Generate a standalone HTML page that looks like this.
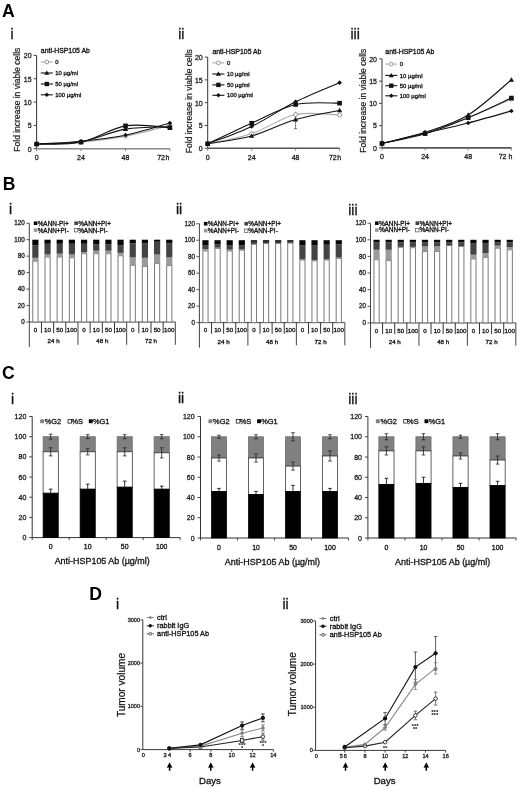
<!DOCTYPE html>
<html><head><meta charset="utf-8"><style>
html,body{margin:0;padding:0;background:#fff;}
svg{display:block;font-family:"Liberation Sans", sans-serif;will-change:transform;}
</style></head><body>
<div id="wrap"><svg width="520" height="788" viewBox="0 0 520 788">
<rect width="520" height="788" fill="#fff"/>
<text x="2.00" y="16.80" font-size="17.6" text-anchor="start" font-weight="bold" fill="#000" >A</text>
<text x="2.80" y="190.20" font-size="17.5" text-anchor="start" font-weight="bold" fill="#000" >B</text>
<text x="2.00" y="378.60" font-size="17.6" text-anchor="start" font-weight="bold" fill="#000" >C</text>
<text x="89.30" y="599.70" font-size="17.6" text-anchor="start" font-weight="bold" fill="#000" >D</text>
<text x="10.60" y="38.70" font-size="14" text-anchor="start" font-weight="normal" fill="#111" stroke="#111" stroke-width="0.3" >i</text>
<text x="178.20" y="39.20" font-size="14" text-anchor="start" font-weight="normal" fill="#111" stroke="#111" stroke-width="0.3" >ii</text>
<text x="350.50" y="39.20" font-size="14" text-anchor="start" font-weight="normal" fill="#111" stroke="#111" stroke-width="0.3" >iii</text>
<text x="9.00" y="213.50" font-size="14" text-anchor="start" font-weight="normal" fill="#111" stroke="#111" stroke-width="0.3" >i</text>
<text x="176.00" y="213.50" font-size="14" text-anchor="start" font-weight="normal" fill="#111" stroke="#111" stroke-width="0.3" >ii</text>
<text x="348.20" y="215.00" font-size="14" text-anchor="start" font-weight="normal" fill="#111" stroke="#111" stroke-width="0.3" >iii</text>
<text x="11.00" y="403.60" font-size="14" text-anchor="start" font-weight="normal" fill="#111" stroke="#111" stroke-width="0.3" >i</text>
<text x="178.00" y="402.70" font-size="14" text-anchor="start" font-weight="normal" fill="#111" stroke="#111" stroke-width="0.3" >ii</text>
<text x="348.20" y="403.60" font-size="14" text-anchor="start" font-weight="normal" fill="#111" stroke="#111" stroke-width="0.3" >iii</text>
<text x="115.90" y="609.00" font-size="14" text-anchor="start" font-weight="normal" fill="#111" stroke="#111" stroke-width="0.3" >i</text>
<text x="282.50" y="609.00" font-size="14" text-anchor="start" font-weight="normal" fill="#111" stroke="#111" stroke-width="0.3" >ii</text>
<line x1="36.60" y1="55.40" x2="36.60" y2="148.70" stroke="#333" stroke-width="1"/>
<line x1="33.60" y1="148.70" x2="36.60" y2="148.70" stroke="#333" stroke-width="0.9"/>
<text x="31.60" y="151.50" font-size="7" text-anchor="end" font-weight="normal" fill="#222" stroke="#222" stroke-width="0.3" >0</text>
<line x1="33.60" y1="125.38" x2="36.60" y2="125.38" stroke="#333" stroke-width="0.9"/>
<text x="31.60" y="128.18" font-size="7" text-anchor="end" font-weight="normal" fill="#222" stroke="#222" stroke-width="0.3" >5</text>
<line x1="33.60" y1="102.05" x2="36.60" y2="102.05" stroke="#333" stroke-width="0.9"/>
<text x="31.60" y="104.85" font-size="7" text-anchor="end" font-weight="normal" fill="#222" stroke="#222" stroke-width="0.3" >10</text>
<line x1="33.60" y1="78.72" x2="36.60" y2="78.72" stroke="#333" stroke-width="0.9"/>
<text x="31.60" y="81.52" font-size="7" text-anchor="end" font-weight="normal" fill="#222" stroke="#222" stroke-width="0.3" >15</text>
<line x1="33.60" y1="55.40" x2="36.60" y2="55.40" stroke="#333" stroke-width="0.9"/>
<text x="31.60" y="58.20" font-size="7" text-anchor="end" font-weight="normal" fill="#222" stroke="#222" stroke-width="0.3" >20</text>
<line x1="36.60" y1="148.70" x2="169.90" y2="148.70" stroke="#888" stroke-width="1.6"/>
<line x1="36.60" y1="148.70" x2="36.60" y2="151.20" stroke="#777" stroke-width="0.9"/>
<text x="36.60" y="160.00" font-size="7" text-anchor="middle" font-weight="normal" fill="#222" stroke="#222" stroke-width="0.3" >0</text>
<line x1="81.00" y1="148.70" x2="81.00" y2="151.20" stroke="#777" stroke-width="0.9"/>
<text x="81.00" y="160.00" font-size="7" text-anchor="middle" font-weight="normal" fill="#222" stroke="#222" stroke-width="0.3" >24</text>
<line x1="125.50" y1="148.70" x2="125.50" y2="151.20" stroke="#777" stroke-width="0.9"/>
<text x="125.50" y="160.00" font-size="7" text-anchor="middle" font-weight="normal" fill="#222" stroke="#222" stroke-width="0.3" >48</text>
<line x1="169.90" y1="148.70" x2="169.90" y2="151.20" stroke="#777" stroke-width="0.9"/>
<text x="169.40" y="160.00" font-size="7" text-anchor="end" font-weight="normal" fill="#222" stroke="#222" stroke-width="0.3" >72 h</text>
<text transform="translate(20.20,99.70) rotate(-90)" font-size="8.5" text-anchor="middle" fill="#222" stroke="#222" stroke-width="0.22">Fold increase in viable cells</text>
<text x="40.80" y="52.60" font-size="6.9" text-anchor="start" font-weight="normal" fill="#111" stroke="#111" stroke-width="0.3" >anti-HSP105 Ab</text>
<line x1="40.80" y1="62.00" x2="52.80" y2="62.00" stroke="#999" stroke-width="0.9"/>
<circle cx="46.80" cy="62.00" r="1.90" fill="#fff" stroke="#999" stroke-width="1"/>
<text x="55.30" y="64.10" font-size="5.9" text-anchor="start" font-weight="normal" fill="#111" stroke="#111" stroke-width="0.3" >0</text>
<line x1="40.80" y1="73.00" x2="52.80" y2="73.00" stroke="#111" stroke-width="1.1"/>
<path d="M46.80,70.53 L49.27,74.73 L44.33,74.73 Z" fill="#111"/>
<text x="55.30" y="75.10" font-size="5.9" text-anchor="start" font-weight="normal" fill="#111" stroke="#111" stroke-width="0.3" >10 µg/ml</text>
<line x1="40.80" y1="84.00" x2="52.80" y2="84.00" stroke="#111" stroke-width="1.1"/>
<rect x="44.61" y="81.81" width="4.37" height="4.37" fill="#111"/>
<text x="55.30" y="86.10" font-size="5.9" text-anchor="start" font-weight="normal" fill="#111" stroke="#111" stroke-width="0.3" >50 µg/ml</text>
<line x1="40.80" y1="94.80" x2="52.80" y2="94.80" stroke="#111" stroke-width="1.1"/>
<path d="M46.80,92.61 L48.98,94.80 L46.80,96.98 L44.61,94.80 Z" fill="#111"/>
<text x="55.30" y="96.90" font-size="5.9" text-anchor="start" font-weight="normal" fill="#111" stroke="#111" stroke-width="0.3" >100 µg/ml</text>
<path d="M36.60,144.03 C44.00,143.72 66.18,143.49 81.00,142.17 C95.82,140.85 110.68,138.90 125.50,136.10 C140.32,133.31 162.50,127.16 169.90,125.38" fill="none" stroke="#aaa" stroke-width="1.1"/>
<path d="M36.60,144.03 C44.00,143.65 66.18,144.19 81.00,141.70 C95.82,139.21 110.68,131.59 125.50,129.11 C140.32,126.62 162.50,127.16 169.90,126.77" fill="none" stroke="#111" stroke-width="1.1"/>
<path d="M36.60,144.03 C44.00,143.72 66.18,145.20 81.00,142.17 C95.82,139.14 110.68,128.25 125.50,125.84 C140.32,123.43 162.50,127.40 169.90,127.71" fill="none" stroke="#111" stroke-width="1.1"/>
<path d="M36.60,144.03 C44.00,143.57 66.18,142.71 81.00,141.24 C95.82,139.76 110.68,138.20 125.50,135.17 C140.32,132.14 162.50,125.06 169.90,123.04" fill="none" stroke="#111" stroke-width="1.1"/>
<circle cx="36.60" cy="144.03" r="2.00" fill="#fff" stroke="#999" stroke-width="1"/>
<circle cx="81.00" cy="142.17" r="2.00" fill="#fff" stroke="#999" stroke-width="1"/>
<circle cx="125.50" cy="136.10" r="2.00" fill="#fff" stroke="#999" stroke-width="1"/>
<circle cx="169.90" cy="125.38" r="2.00" fill="#fff" stroke="#999" stroke-width="1"/>
<path d="M36.60,141.44 L39.20,145.85 L34.00,145.85 Z" fill="#111"/>
<path d="M81.00,139.10 L83.60,143.52 L78.40,143.52 Z" fill="#111"/>
<path d="M125.50,126.51 L128.10,130.93 L122.90,130.93 Z" fill="#111"/>
<path d="M169.90,124.17 L172.50,128.59 L167.30,128.59 Z" fill="#111"/>
<rect x="34.30" y="141.73" width="4.60" height="4.60" fill="#111"/>
<rect x="78.70" y="139.87" width="4.60" height="4.60" fill="#111"/>
<rect x="123.20" y="123.54" width="4.60" height="4.60" fill="#111"/>
<rect x="167.60" y="125.41" width="4.60" height="4.60" fill="#111"/>
<path d="M36.60,141.73 L38.90,144.03 L36.60,146.34 L34.30,144.03 Z" fill="#111"/>
<path d="M81.00,138.94 L83.30,141.24 L81.00,143.54 L78.70,141.24 Z" fill="#111"/>
<path d="M125.50,132.87 L127.80,135.17 L125.50,137.47 L123.20,135.17 Z" fill="#111"/>
<path d="M169.90,120.74 L172.20,123.04 L169.90,125.34 L167.60,123.04 Z" fill="#111"/>
<line x1="207.70" y1="57.10" x2="207.70" y2="148.30" stroke="#333" stroke-width="1"/>
<line x1="204.70" y1="148.30" x2="207.70" y2="148.30" stroke="#333" stroke-width="0.9"/>
<text x="202.70" y="151.10" font-size="7" text-anchor="end" font-weight="normal" fill="#222" stroke="#222" stroke-width="0.3" >0</text>
<line x1="204.70" y1="125.50" x2="207.70" y2="125.50" stroke="#333" stroke-width="0.9"/>
<text x="202.70" y="128.30" font-size="7" text-anchor="end" font-weight="normal" fill="#222" stroke="#222" stroke-width="0.3" >5</text>
<line x1="204.70" y1="102.70" x2="207.70" y2="102.70" stroke="#333" stroke-width="0.9"/>
<text x="202.70" y="105.50" font-size="7" text-anchor="end" font-weight="normal" fill="#222" stroke="#222" stroke-width="0.3" >10</text>
<line x1="204.70" y1="79.90" x2="207.70" y2="79.90" stroke="#333" stroke-width="0.9"/>
<text x="202.70" y="82.70" font-size="7" text-anchor="end" font-weight="normal" fill="#222" stroke="#222" stroke-width="0.3" >15</text>
<line x1="204.70" y1="57.10" x2="207.70" y2="57.10" stroke="#333" stroke-width="0.9"/>
<text x="202.70" y="59.90" font-size="7" text-anchor="end" font-weight="normal" fill="#222" stroke="#222" stroke-width="0.3" >20</text>
<line x1="207.70" y1="148.30" x2="339.60" y2="148.30" stroke="#555" stroke-width="1.6"/>
<line x1="207.70" y1="148.30" x2="207.70" y2="150.80" stroke="#777" stroke-width="0.9"/>
<text x="207.70" y="159.60" font-size="7" text-anchor="middle" font-weight="normal" fill="#222" stroke="#222" stroke-width="0.3" >0</text>
<line x1="251.70" y1="148.30" x2="251.70" y2="150.80" stroke="#777" stroke-width="0.9"/>
<text x="251.70" y="159.60" font-size="7" text-anchor="middle" font-weight="normal" fill="#222" stroke="#222" stroke-width="0.3" >24</text>
<line x1="295.60" y1="148.30" x2="295.60" y2="150.80" stroke="#777" stroke-width="0.9"/>
<text x="295.60" y="159.60" font-size="7" text-anchor="middle" font-weight="normal" fill="#222" stroke="#222" stroke-width="0.3" >48</text>
<line x1="339.60" y1="148.30" x2="339.60" y2="150.80" stroke="#777" stroke-width="0.9"/>
<text x="341.20" y="159.60" font-size="7" text-anchor="end" font-weight="normal" fill="#222" stroke="#222" stroke-width="0.3" >72 h</text>
<text transform="translate(191.60,101.20) rotate(-90)" font-size="8.5" text-anchor="middle" fill="#222" stroke="#222" stroke-width="0.22">Fold increase in viable cells</text>
<text x="212.40" y="54.20" font-size="6.9" text-anchor="start" font-weight="normal" fill="#111" stroke="#111" stroke-width="0.3" >anti-HSP105 Ab</text>
<line x1="212.40" y1="62.90" x2="224.40" y2="62.90" stroke="#999" stroke-width="0.9"/>
<circle cx="218.40" cy="62.90" r="1.90" fill="#fff" stroke="#999" stroke-width="1"/>
<text x="226.90" y="65.00" font-size="5.9" text-anchor="start" font-weight="normal" fill="#111" stroke="#111" stroke-width="0.3" >0</text>
<line x1="212.40" y1="74.00" x2="224.40" y2="74.00" stroke="#111" stroke-width="1.1"/>
<path d="M218.40,71.53 L220.87,75.73 L215.93,75.73 Z" fill="#111"/>
<text x="226.90" y="76.10" font-size="5.9" text-anchor="start" font-weight="normal" fill="#111" stroke="#111" stroke-width="0.3" >10 µg/ml</text>
<line x1="212.40" y1="84.90" x2="224.40" y2="84.90" stroke="#111" stroke-width="1.1"/>
<rect x="216.22" y="82.72" width="4.37" height="4.37" fill="#111"/>
<text x="226.90" y="87.00" font-size="5.9" text-anchor="start" font-weight="normal" fill="#111" stroke="#111" stroke-width="0.3" >50 µg/ml</text>
<line x1="212.40" y1="95.30" x2="224.40" y2="95.30" stroke="#111" stroke-width="1.1"/>
<path d="M218.40,93.11 L220.59,95.30 L218.40,97.48 L216.22,95.30 Z" fill="#111"/>
<text x="226.90" y="97.40" font-size="5.9" text-anchor="start" font-weight="normal" fill="#111" stroke="#111" stroke-width="0.3" >100 µg/ml</text>
<path d="M207.70,143.74 C215.03,142.07 237.05,138.57 251.70,133.71 C266.35,128.84 280.95,117.67 295.60,114.56 C310.25,111.44 332.27,114.94 339.60,115.01" fill="none" stroke="#aaa" stroke-width="1.1"/>
<path d="M207.70,143.74 C215.03,142.45 237.05,140.02 251.70,135.99 C266.35,131.96 280.95,123.83 295.60,119.57 C310.25,115.32 332.27,111.97 339.60,110.45" fill="none" stroke="#111" stroke-width="1.1"/>
<path d="M207.70,143.74 C215.03,140.32 237.05,129.76 251.70,123.22 C266.35,116.68 280.95,107.87 295.60,104.52 C310.25,101.18 332.27,103.38 339.60,103.16" fill="none" stroke="#111" stroke-width="1.1"/>
<path d="M207.70,143.74 C215.03,140.85 237.05,133.40 251.70,126.41 C266.35,119.42 280.95,109.08 295.60,101.79 C310.25,94.49 332.27,85.83 339.60,82.64" fill="none" stroke="#111" stroke-width="1.1"/>
<line x1="295.60" y1="128.69" x2="295.60" y2="111.82" stroke="#555" stroke-width="0.8"/>
<line x1="294.10" y1="128.69" x2="297.10" y2="128.69" stroke="#555" stroke-width="0.8"/>
<circle cx="207.70" cy="143.74" r="2.00" fill="#fff" stroke="#999" stroke-width="1"/>
<circle cx="251.70" cy="133.71" r="2.00" fill="#fff" stroke="#999" stroke-width="1"/>
<circle cx="295.60" cy="114.56" r="2.00" fill="#fff" stroke="#999" stroke-width="1"/>
<circle cx="339.60" cy="115.01" r="2.00" fill="#fff" stroke="#999" stroke-width="1"/>
<path d="M207.70,141.14 L210.30,145.56 L205.10,145.56 Z" fill="#111"/>
<path d="M251.70,133.39 L254.30,137.81 L249.10,137.81 Z" fill="#111"/>
<path d="M295.60,116.97 L298.20,121.39 L293.00,121.39 Z" fill="#111"/>
<path d="M339.60,107.85 L342.20,112.27 L337.00,112.27 Z" fill="#111"/>
<rect x="205.40" y="141.44" width="4.60" height="4.60" fill="#111"/>
<rect x="249.40" y="120.92" width="4.60" height="4.60" fill="#111"/>
<rect x="293.30" y="102.22" width="4.60" height="4.60" fill="#111"/>
<rect x="337.30" y="100.86" width="4.60" height="4.60" fill="#111"/>
<path d="M207.70,141.44 L210.00,143.74 L207.70,146.04 L205.40,143.74 Z" fill="#111"/>
<path d="M251.70,124.11 L254.00,126.41 L251.70,128.71 L249.40,126.41 Z" fill="#111"/>
<path d="M295.60,99.49 L297.90,101.79 L295.60,104.09 L293.30,101.79 Z" fill="#111"/>
<path d="M339.60,80.34 L341.90,82.64 L339.60,84.94 L337.30,82.64 Z" fill="#111"/>
<line x1="382.00" y1="58.90" x2="382.00" y2="147.90" stroke="#333" stroke-width="1"/>
<line x1="379.00" y1="147.90" x2="382.00" y2="147.90" stroke="#333" stroke-width="0.9"/>
<text x="377.00" y="150.70" font-size="7" text-anchor="end" font-weight="normal" fill="#222" stroke="#222" stroke-width="0.3" >0</text>
<line x1="379.00" y1="125.65" x2="382.00" y2="125.65" stroke="#333" stroke-width="0.9"/>
<text x="377.00" y="128.45" font-size="7" text-anchor="end" font-weight="normal" fill="#222" stroke="#222" stroke-width="0.3" >5</text>
<line x1="379.00" y1="103.40" x2="382.00" y2="103.40" stroke="#333" stroke-width="0.9"/>
<text x="377.00" y="106.20" font-size="7" text-anchor="end" font-weight="normal" fill="#222" stroke="#222" stroke-width="0.3" >10</text>
<line x1="379.00" y1="81.15" x2="382.00" y2="81.15" stroke="#333" stroke-width="0.9"/>
<text x="377.00" y="83.95" font-size="7" text-anchor="end" font-weight="normal" fill="#222" stroke="#222" stroke-width="0.3" >15</text>
<line x1="379.00" y1="58.90" x2="382.00" y2="58.90" stroke="#333" stroke-width="0.9"/>
<text x="377.00" y="61.70" font-size="7" text-anchor="end" font-weight="normal" fill="#222" stroke="#222" stroke-width="0.3" >20</text>
<line x1="382.00" y1="147.90" x2="511.40" y2="147.90" stroke="#555" stroke-width="1.6"/>
<line x1="382.00" y1="147.90" x2="382.00" y2="150.40" stroke="#777" stroke-width="0.9"/>
<text x="382.00" y="159.20" font-size="7" text-anchor="middle" font-weight="normal" fill="#222" stroke="#222" stroke-width="0.3" >0</text>
<line x1="425.10" y1="147.90" x2="425.10" y2="150.40" stroke="#777" stroke-width="0.9"/>
<text x="425.10" y="159.20" font-size="7" text-anchor="middle" font-weight="normal" fill="#222" stroke="#222" stroke-width="0.3" >24</text>
<line x1="468.20" y1="147.90" x2="468.20" y2="150.40" stroke="#777" stroke-width="0.9"/>
<text x="468.20" y="159.20" font-size="7" text-anchor="middle" font-weight="normal" fill="#222" stroke="#222" stroke-width="0.3" >48</text>
<line x1="511.40" y1="147.90" x2="511.40" y2="150.40" stroke="#777" stroke-width="0.9"/>
<text x="512.30" y="159.20" font-size="7" text-anchor="end" font-weight="normal" fill="#222" stroke="#222" stroke-width="0.3" >72 h</text>
<text transform="translate(366.10,100.80) rotate(-90)" font-size="8.5" text-anchor="middle" fill="#222" stroke="#222" stroke-width="0.22">Fold increase in viable cells</text>
<text x="385.30" y="53.70" font-size="6.9" text-anchor="start" font-weight="normal" fill="#111" stroke="#111" stroke-width="0.3" >anti-HSP105 Ab</text>
<line x1="385.30" y1="64.10" x2="397.30" y2="64.10" stroke="#999" stroke-width="0.9"/>
<circle cx="391.30" cy="64.10" r="1.90" fill="#fff" stroke="#999" stroke-width="1"/>
<text x="399.80" y="66.20" font-size="5.9" text-anchor="start" font-weight="normal" fill="#111" stroke="#111" stroke-width="0.3" >0</text>
<line x1="385.30" y1="75.40" x2="397.30" y2="75.40" stroke="#111" stroke-width="1.1"/>
<path d="M391.30,72.93 L393.77,77.13 L388.83,77.13 Z" fill="#111"/>
<text x="399.80" y="77.50" font-size="5.9" text-anchor="start" font-weight="normal" fill="#111" stroke="#111" stroke-width="0.3" >10 µg/ml</text>
<line x1="385.30" y1="85.70" x2="397.30" y2="85.70" stroke="#111" stroke-width="1.1"/>
<rect x="389.12" y="83.52" width="4.37" height="4.37" fill="#111"/>
<text x="399.80" y="87.80" font-size="5.9" text-anchor="start" font-weight="normal" fill="#111" stroke="#111" stroke-width="0.3" >50 µg/ml</text>
<line x1="385.30" y1="95.80" x2="397.30" y2="95.80" stroke="#111" stroke-width="1.1"/>
<path d="M391.30,93.61 L393.49,95.80 L391.30,97.98 L389.12,95.80 Z" fill="#111"/>
<text x="399.80" y="97.90" font-size="5.9" text-anchor="start" font-weight="normal" fill="#111" stroke="#111" stroke-width="0.3" >100 µg/ml</text>
<path d="M382.00,143.45 C389.18,141.60 410.73,136.63 425.10,132.33 C439.47,128.02 453.82,123.20 468.20,117.64 C482.58,112.08 504.20,102.06 511.40,98.95" fill="none" stroke="#aaa" stroke-width="1.1"/>
<path d="M382.00,143.45 C389.18,141.60 410.73,137.07 425.10,132.33 C439.47,127.58 453.82,123.72 468.20,114.97 C482.58,106.22 504.20,85.67 511.40,79.81" fill="none" stroke="#111" stroke-width="1.1"/>
<path d="M382.00,143.45 C389.18,141.82 410.73,137.96 425.10,133.66 C439.47,129.36 453.82,123.57 468.20,117.64 C482.58,111.71 504.20,101.32 511.40,98.06" fill="none" stroke="#111" stroke-width="1.1"/>
<path d="M382.00,143.45 C389.18,141.74 410.73,136.63 425.10,133.22 C439.47,129.80 453.82,126.69 468.20,122.98 C482.58,119.27 504.20,112.97 511.40,110.97" fill="none" stroke="#111" stroke-width="1.1"/>
<circle cx="382.00" cy="143.45" r="2.00" fill="#fff" stroke="#999" stroke-width="1"/>
<circle cx="425.10" cy="132.33" r="2.00" fill="#fff" stroke="#999" stroke-width="1"/>
<circle cx="468.20" cy="117.64" r="2.00" fill="#fff" stroke="#999" stroke-width="1"/>
<circle cx="511.40" cy="98.95" r="2.00" fill="#fff" stroke="#999" stroke-width="1"/>
<path d="M382.00,140.85 L384.60,145.27 L379.40,145.27 Z" fill="#111"/>
<path d="M425.10,129.73 L427.70,134.15 L422.50,134.15 Z" fill="#111"/>
<path d="M468.20,112.37 L470.80,116.79 L465.60,116.79 Z" fill="#111"/>
<path d="M511.40,77.22 L514.00,81.63 L508.80,81.63 Z" fill="#111"/>
<rect x="379.70" y="141.15" width="4.60" height="4.60" fill="#111"/>
<rect x="422.80" y="131.36" width="4.60" height="4.60" fill="#111"/>
<rect x="465.90" y="115.34" width="4.60" height="4.60" fill="#111"/>
<rect x="509.10" y="95.76" width="4.60" height="4.60" fill="#111"/>
<path d="M382.00,141.15 L384.30,143.45 L382.00,145.75 L379.70,143.45 Z" fill="#111"/>
<path d="M425.10,130.91 L427.40,133.22 L425.10,135.52 L422.80,133.22 Z" fill="#111"/>
<path d="M468.20,120.68 L470.50,122.98 L468.20,125.28 L465.90,122.98 Z" fill="#111"/>
<path d="M511.40,108.67 L513.70,110.97 L511.40,113.27 L509.10,110.97 Z" fill="#111"/>
<line x1="29.30" y1="223.24" x2="29.30" y2="347.00" stroke="#444" stroke-width="1"/>
<line x1="26.30" y1="322.00" x2="29.30" y2="322.00" stroke="#444" stroke-width="0.9"/>
<text x="24.80" y="324.20" font-size="6.3" text-anchor="end" font-weight="normal" fill="#222" stroke="#222" stroke-width="0.3" >0</text>
<line x1="26.30" y1="305.54" x2="29.30" y2="305.54" stroke="#444" stroke-width="0.9"/>
<text x="24.80" y="307.74" font-size="6.3" text-anchor="end" font-weight="normal" fill="#222" stroke="#222" stroke-width="0.3" >20</text>
<line x1="26.30" y1="289.08" x2="29.30" y2="289.08" stroke="#444" stroke-width="0.9"/>
<text x="24.80" y="291.28" font-size="6.3" text-anchor="end" font-weight="normal" fill="#222" stroke="#222" stroke-width="0.3" >40</text>
<line x1="26.30" y1="272.62" x2="29.30" y2="272.62" stroke="#444" stroke-width="0.9"/>
<text x="24.80" y="274.82" font-size="6.3" text-anchor="end" font-weight="normal" fill="#222" stroke="#222" stroke-width="0.3" >60</text>
<line x1="26.30" y1="256.16" x2="29.30" y2="256.16" stroke="#444" stroke-width="0.9"/>
<text x="24.80" y="258.36" font-size="6.3" text-anchor="end" font-weight="normal" fill="#222" stroke="#222" stroke-width="0.3" >80</text>
<line x1="26.30" y1="239.70" x2="29.30" y2="239.70" stroke="#444" stroke-width="0.9"/>
<text x="24.80" y="241.90" font-size="6.3" text-anchor="end" font-weight="normal" fill="#222" stroke="#222" stroke-width="0.3" >100</text>
<line x1="26.30" y1="223.24" x2="29.30" y2="223.24" stroke="#444" stroke-width="0.9"/>
<text x="24.80" y="225.44" font-size="6.3" text-anchor="end" font-weight="normal" fill="#222" stroke="#222" stroke-width="0.3" >120</text>
<line x1="29.30" y1="322.00" x2="175.34" y2="322.00" stroke="#444" stroke-width="1"/>
<text x="35.38" y="331.60" font-size="6.2" text-anchor="middle" font-weight="normal" fill="#111" stroke="#111" stroke-width="0.3" >0</text>
<line x1="41.47" y1="322.00" x2="41.47" y2="333.20" stroke="#333" stroke-width="1"/>
<text x="47.55" y="331.60" font-size="6.2" text-anchor="middle" font-weight="normal" fill="#111" stroke="#111" stroke-width="0.3" >10</text>
<line x1="53.64" y1="322.00" x2="53.64" y2="333.20" stroke="#333" stroke-width="1"/>
<text x="59.73" y="331.60" font-size="6.2" text-anchor="middle" font-weight="normal" fill="#111" stroke="#111" stroke-width="0.3" >50</text>
<line x1="65.81" y1="322.00" x2="65.81" y2="333.20" stroke="#333" stroke-width="1"/>
<text x="71.89" y="331.60" font-size="6.2" text-anchor="middle" font-weight="normal" fill="#111" stroke="#111" stroke-width="0.3" >100</text>
<line x1="77.98" y1="322.00" x2="77.98" y2="344.80" stroke="#444" stroke-width="1"/>
<text x="84.06" y="331.60" font-size="6.2" text-anchor="middle" font-weight="normal" fill="#111" stroke="#111" stroke-width="0.3" >0</text>
<line x1="90.15" y1="322.00" x2="90.15" y2="333.20" stroke="#333" stroke-width="1"/>
<text x="96.23" y="331.60" font-size="6.2" text-anchor="middle" font-weight="normal" fill="#111" stroke="#111" stroke-width="0.3" >10</text>
<line x1="102.32" y1="322.00" x2="102.32" y2="333.20" stroke="#333" stroke-width="1"/>
<text x="108.40" y="331.60" font-size="6.2" text-anchor="middle" font-weight="normal" fill="#111" stroke="#111" stroke-width="0.3" >50</text>
<line x1="114.49" y1="322.00" x2="114.49" y2="333.20" stroke="#333" stroke-width="1"/>
<text x="120.57" y="331.60" font-size="6.2" text-anchor="middle" font-weight="normal" fill="#111" stroke="#111" stroke-width="0.3" >100</text>
<line x1="126.66" y1="322.00" x2="126.66" y2="344.80" stroke="#444" stroke-width="1"/>
<text x="132.75" y="331.60" font-size="6.2" text-anchor="middle" font-weight="normal" fill="#111" stroke="#111" stroke-width="0.3" >0</text>
<line x1="138.83" y1="322.00" x2="138.83" y2="333.20" stroke="#333" stroke-width="1"/>
<text x="144.92" y="331.60" font-size="6.2" text-anchor="middle" font-weight="normal" fill="#111" stroke="#111" stroke-width="0.3" >10</text>
<line x1="151.00" y1="322.00" x2="151.00" y2="333.20" stroke="#333" stroke-width="1"/>
<text x="157.09" y="331.60" font-size="6.2" text-anchor="middle" font-weight="normal" fill="#111" stroke="#111" stroke-width="0.3" >50</text>
<line x1="163.17" y1="322.00" x2="163.17" y2="333.20" stroke="#333" stroke-width="1"/>
<text x="169.26" y="331.60" font-size="6.2" text-anchor="middle" font-weight="normal" fill="#111" stroke="#111" stroke-width="0.3" >100</text>
<line x1="175.34" y1="322.00" x2="175.34" y2="344.80" stroke="#444" stroke-width="1"/>
<text x="53.64" y="343.40" font-size="6.2" text-anchor="middle" font-weight="normal" fill="#111" stroke="#111" stroke-width="0.3" >24 h</text>
<text x="102.32" y="343.40" font-size="6.2" text-anchor="middle" font-weight="normal" fill="#111" stroke="#111" stroke-width="0.3" >48 h</text>
<text x="151.00" y="343.40" font-size="6.2" text-anchor="middle" font-weight="normal" fill="#111" stroke="#111" stroke-width="0.3" >72 h</text>
<rect x="32.79" y="261.10" width="5.20" height="60.90" fill="#fff" stroke="#7a7a7a" stroke-width="1.0"/>
<rect x="32.29" y="257.81" width="6.20" height="3.29" fill="#9a9a9a" stroke="none" stroke-width="0.8"/>
<rect x="32.29" y="245.46" width="6.20" height="12.35" fill="#444444" stroke="none" stroke-width="0.8"/>
<rect x="32.29" y="239.70" width="6.20" height="5.76" fill="#080808" stroke="none" stroke-width="0.8"/>
<rect x="44.95" y="256.98" width="5.20" height="65.02" fill="#fff" stroke="#7a7a7a" stroke-width="1.0"/>
<rect x="44.45" y="254.51" width="6.20" height="2.47" fill="#9a9a9a" stroke="none" stroke-width="0.8"/>
<rect x="44.45" y="243.81" width="6.20" height="10.70" fill="#444444" stroke="none" stroke-width="0.8"/>
<rect x="44.45" y="239.70" width="6.20" height="4.12" fill="#080808" stroke="none" stroke-width="0.8"/>
<rect x="57.12" y="256.98" width="5.20" height="65.02" fill="#fff" stroke="#7a7a7a" stroke-width="1.0"/>
<rect x="56.62" y="253.69" width="6.20" height="3.29" fill="#9a9a9a" stroke="none" stroke-width="0.8"/>
<rect x="56.62" y="243.81" width="6.20" height="9.88" fill="#444444" stroke="none" stroke-width="0.8"/>
<rect x="56.62" y="239.70" width="6.20" height="4.12" fill="#080808" stroke="none" stroke-width="0.8"/>
<rect x="69.30" y="257.81" width="5.20" height="64.19" fill="#fff" stroke="#7a7a7a" stroke-width="1.0"/>
<rect x="68.80" y="254.51" width="6.20" height="3.29" fill="#9a9a9a" stroke="none" stroke-width="0.8"/>
<rect x="68.80" y="243.81" width="6.20" height="10.70" fill="#444444" stroke="none" stroke-width="0.8"/>
<rect x="68.80" y="239.70" width="6.20" height="4.12" fill="#080808" stroke="none" stroke-width="0.8"/>
<rect x="81.47" y="253.69" width="5.20" height="68.31" fill="#fff" stroke="#7a7a7a" stroke-width="1.0"/>
<rect x="80.97" y="252.04" width="6.20" height="1.65" fill="#9a9a9a" stroke="none" stroke-width="0.8"/>
<rect x="80.97" y="243.81" width="6.20" height="8.23" fill="#444444" stroke="none" stroke-width="0.8"/>
<rect x="80.97" y="239.70" width="6.20" height="4.12" fill="#080808" stroke="none" stroke-width="0.8"/>
<rect x="93.64" y="253.69" width="5.20" height="68.31" fill="#fff" stroke="#7a7a7a" stroke-width="1.0"/>
<rect x="93.14" y="250.73" width="6.20" height="2.96" fill="#9a9a9a" stroke="none" stroke-width="0.8"/>
<rect x="93.14" y="244.23" width="6.20" height="6.50" fill="#444444" stroke="none" stroke-width="0.8"/>
<rect x="93.14" y="239.70" width="6.20" height="4.53" fill="#080808" stroke="none" stroke-width="0.8"/>
<rect x="105.80" y="253.69" width="5.20" height="68.31" fill="#fff" stroke="#7a7a7a" stroke-width="1.0"/>
<rect x="105.30" y="250.73" width="6.20" height="2.96" fill="#9a9a9a" stroke="none" stroke-width="0.8"/>
<rect x="105.30" y="244.23" width="6.20" height="6.50" fill="#444444" stroke="none" stroke-width="0.8"/>
<rect x="105.30" y="239.70" width="6.20" height="4.53" fill="#080808" stroke="none" stroke-width="0.8"/>
<rect x="117.97" y="255.75" width="5.20" height="66.25" fill="#fff" stroke="#7a7a7a" stroke-width="1.0"/>
<rect x="117.47" y="252.87" width="6.20" height="2.88" fill="#9a9a9a" stroke="none" stroke-width="0.8"/>
<rect x="117.47" y="245.46" width="6.20" height="7.41" fill="#444444" stroke="none" stroke-width="0.8"/>
<rect x="117.47" y="239.70" width="6.20" height="5.76" fill="#080808" stroke="none" stroke-width="0.8"/>
<rect x="130.15" y="265.21" width="5.20" height="56.79" fill="#fff" stroke="#7a7a7a" stroke-width="1.0"/>
<rect x="129.65" y="257.39" width="6.20" height="7.82" fill="#9a9a9a" stroke="none" stroke-width="0.8"/>
<rect x="129.65" y="243.40" width="6.20" height="13.99" fill="#444444" stroke="none" stroke-width="0.8"/>
<rect x="129.65" y="239.70" width="6.20" height="3.70" fill="#080808" stroke="none" stroke-width="0.8"/>
<rect x="142.32" y="266.45" width="5.20" height="55.55" fill="#fff" stroke="#7a7a7a" stroke-width="1.0"/>
<rect x="141.82" y="257.81" width="6.20" height="8.64" fill="#9a9a9a" stroke="none" stroke-width="0.8"/>
<rect x="141.82" y="243.40" width="6.20" height="14.40" fill="#444444" stroke="none" stroke-width="0.8"/>
<rect x="141.82" y="239.70" width="6.20" height="3.70" fill="#080808" stroke="none" stroke-width="0.8"/>
<rect x="154.49" y="263.57" width="5.20" height="58.43" fill="#fff" stroke="#7a7a7a" stroke-width="1.0"/>
<rect x="153.99" y="254.51" width="6.20" height="9.05" fill="#9a9a9a" stroke="none" stroke-width="0.8"/>
<rect x="153.99" y="241.76" width="6.20" height="12.76" fill="#444444" stroke="none" stroke-width="0.8"/>
<rect x="153.99" y="239.70" width="6.20" height="2.06" fill="#080808" stroke="none" stroke-width="0.8"/>
<rect x="166.66" y="265.62" width="5.20" height="56.38" fill="#fff" stroke="#7a7a7a" stroke-width="1.0"/>
<rect x="166.16" y="257.39" width="6.20" height="8.23" fill="#9a9a9a" stroke="none" stroke-width="0.8"/>
<rect x="166.16" y="243.40" width="6.20" height="13.99" fill="#444444" stroke="none" stroke-width="0.8"/>
<rect x="166.16" y="239.70" width="6.20" height="3.70" fill="#080808" stroke="none" stroke-width="0.8"/>
<rect x="33.80" y="221.44" width="3.60" height="3.60" fill="#080808" stroke="none" stroke-width="0.8"/>
<text x="37.70" y="225.64" font-size="6.4" text-anchor="start" font-weight="normal" fill="#111" stroke="#111" stroke-width="0.3" >%ANN-PI+</text>
<rect x="74.30" y="221.44" width="3.60" height="3.60" fill="#444" stroke="none" stroke-width="0.8"/>
<text x="78.20" y="225.64" font-size="6.4" text-anchor="start" font-weight="normal" fill="#111" stroke="#111" stroke-width="0.3" >%ANN+PI+</text>
<rect x="33.80" y="228.34" width="3.60" height="3.60" fill="#9a9a9a" stroke="none" stroke-width="0.8"/>
<text x="37.70" y="232.54" font-size="6.4" text-anchor="start" font-weight="normal" fill="#111" stroke="#111" stroke-width="0.3" >%ANN+PI-</text>
<rect x="74.40" y="228.54" width="3.40" height="3.40" fill="#fff" stroke="#555" stroke-width="0.7"/>
<text x="78.20" y="232.54" font-size="6.4" text-anchor="start" font-weight="normal" fill="#111" stroke="#111" stroke-width="0.3" >%ANN-PI-</text>
<line x1="199.40" y1="223.72" x2="199.40" y2="347.60" stroke="#444" stroke-width="1"/>
<line x1="196.40" y1="322.60" x2="199.40" y2="322.60" stroke="#444" stroke-width="0.9"/>
<text x="194.90" y="324.80" font-size="6.3" text-anchor="end" font-weight="normal" fill="#222" stroke="#222" stroke-width="0.3" >0</text>
<line x1="196.40" y1="306.12" x2="199.40" y2="306.12" stroke="#444" stroke-width="0.9"/>
<text x="194.90" y="308.32" font-size="6.3" text-anchor="end" font-weight="normal" fill="#222" stroke="#222" stroke-width="0.3" >20</text>
<line x1="196.40" y1="289.64" x2="199.40" y2="289.64" stroke="#444" stroke-width="0.9"/>
<text x="194.90" y="291.84" font-size="6.3" text-anchor="end" font-weight="normal" fill="#222" stroke="#222" stroke-width="0.3" >40</text>
<line x1="196.40" y1="273.16" x2="199.40" y2="273.16" stroke="#444" stroke-width="0.9"/>
<text x="194.90" y="275.36" font-size="6.3" text-anchor="end" font-weight="normal" fill="#222" stroke="#222" stroke-width="0.3" >60</text>
<line x1="196.40" y1="256.68" x2="199.40" y2="256.68" stroke="#444" stroke-width="0.9"/>
<text x="194.90" y="258.88" font-size="6.3" text-anchor="end" font-weight="normal" fill="#222" stroke="#222" stroke-width="0.3" >80</text>
<line x1="196.40" y1="240.20" x2="199.40" y2="240.20" stroke="#444" stroke-width="0.9"/>
<text x="194.90" y="242.40" font-size="6.3" text-anchor="end" font-weight="normal" fill="#222" stroke="#222" stroke-width="0.3" >100</text>
<line x1="196.40" y1="223.72" x2="199.40" y2="223.72" stroke="#444" stroke-width="0.9"/>
<text x="194.90" y="225.92" font-size="6.3" text-anchor="end" font-weight="normal" fill="#222" stroke="#222" stroke-width="0.3" >120</text>
<line x1="199.40" y1="322.60" x2="344.84" y2="322.60" stroke="#444" stroke-width="1"/>
<text x="205.46" y="332.20" font-size="6.2" text-anchor="middle" font-weight="normal" fill="#111" stroke="#111" stroke-width="0.3" >0</text>
<line x1="211.52" y1="322.60" x2="211.52" y2="333.80" stroke="#333" stroke-width="1"/>
<text x="217.58" y="332.20" font-size="6.2" text-anchor="middle" font-weight="normal" fill="#111" stroke="#111" stroke-width="0.3" >10</text>
<line x1="223.64" y1="322.60" x2="223.64" y2="333.80" stroke="#333" stroke-width="1"/>
<text x="229.70" y="332.20" font-size="6.2" text-anchor="middle" font-weight="normal" fill="#111" stroke="#111" stroke-width="0.3" >50</text>
<line x1="235.76" y1="322.60" x2="235.76" y2="333.80" stroke="#333" stroke-width="1"/>
<text x="241.82" y="332.20" font-size="6.2" text-anchor="middle" font-weight="normal" fill="#111" stroke="#111" stroke-width="0.3" >100</text>
<line x1="247.88" y1="322.60" x2="247.88" y2="345.40" stroke="#444" stroke-width="1"/>
<text x="253.94" y="332.20" font-size="6.2" text-anchor="middle" font-weight="normal" fill="#111" stroke="#111" stroke-width="0.3" >0</text>
<line x1="260.00" y1="322.60" x2="260.00" y2="333.80" stroke="#333" stroke-width="1"/>
<text x="266.06" y="332.20" font-size="6.2" text-anchor="middle" font-weight="normal" fill="#111" stroke="#111" stroke-width="0.3" >10</text>
<line x1="272.12" y1="322.60" x2="272.12" y2="333.80" stroke="#333" stroke-width="1"/>
<text x="278.18" y="332.20" font-size="6.2" text-anchor="middle" font-weight="normal" fill="#111" stroke="#111" stroke-width="0.3" >50</text>
<line x1="284.24" y1="322.60" x2="284.24" y2="333.80" stroke="#333" stroke-width="1"/>
<text x="290.30" y="332.20" font-size="6.2" text-anchor="middle" font-weight="normal" fill="#111" stroke="#111" stroke-width="0.3" >100</text>
<line x1="296.36" y1="322.60" x2="296.36" y2="345.40" stroke="#444" stroke-width="1"/>
<text x="302.42" y="332.20" font-size="6.2" text-anchor="middle" font-weight="normal" fill="#111" stroke="#111" stroke-width="0.3" >0</text>
<line x1="308.48" y1="322.60" x2="308.48" y2="333.80" stroke="#333" stroke-width="1"/>
<text x="314.54" y="332.20" font-size="6.2" text-anchor="middle" font-weight="normal" fill="#111" stroke="#111" stroke-width="0.3" >10</text>
<line x1="320.60" y1="322.60" x2="320.60" y2="333.80" stroke="#333" stroke-width="1"/>
<text x="326.66" y="332.20" font-size="6.2" text-anchor="middle" font-weight="normal" fill="#111" stroke="#111" stroke-width="0.3" >50</text>
<line x1="332.72" y1="322.60" x2="332.72" y2="333.80" stroke="#333" stroke-width="1"/>
<text x="338.78" y="332.20" font-size="6.2" text-anchor="middle" font-weight="normal" fill="#111" stroke="#111" stroke-width="0.3" >100</text>
<line x1="344.84" y1="322.60" x2="344.84" y2="345.40" stroke="#444" stroke-width="1"/>
<text x="223.64" y="344.00" font-size="6.2" text-anchor="middle" font-weight="normal" fill="#111" stroke="#111" stroke-width="0.3" >24 h</text>
<text x="272.12" y="344.00" font-size="6.2" text-anchor="middle" font-weight="normal" fill="#111" stroke="#111" stroke-width="0.3" >48 h</text>
<text x="320.60" y="344.00" font-size="6.2" text-anchor="middle" font-weight="normal" fill="#111" stroke="#111" stroke-width="0.3" >72 h</text>
<rect x="202.86" y="250.91" width="5.20" height="71.69" fill="#fff" stroke="#7a7a7a" stroke-width="1.0"/>
<rect x="202.36" y="249.26" width="6.20" height="1.65" fill="#9a9a9a" stroke="none" stroke-width="0.8"/>
<rect x="202.36" y="245.14" width="6.20" height="4.12" fill="#444444" stroke="none" stroke-width="0.8"/>
<rect x="202.36" y="240.20" width="6.20" height="4.94" fill="#080808" stroke="none" stroke-width="0.8"/>
<rect x="214.98" y="248.44" width="5.20" height="74.16" fill="#fff" stroke="#7a7a7a" stroke-width="1.0"/>
<rect x="214.48" y="247.62" width="6.20" height="0.82" fill="#9a9a9a" stroke="none" stroke-width="0.8"/>
<rect x="214.48" y="244.32" width="6.20" height="3.30" fill="#444444" stroke="none" stroke-width="0.8"/>
<rect x="214.48" y="240.20" width="6.20" height="4.12" fill="#080808" stroke="none" stroke-width="0.8"/>
<rect x="227.10" y="250.91" width="5.20" height="71.69" fill="#fff" stroke="#7a7a7a" stroke-width="1.0"/>
<rect x="226.60" y="249.68" width="6.20" height="1.24" fill="#9a9a9a" stroke="none" stroke-width="0.8"/>
<rect x="226.60" y="245.14" width="6.20" height="4.53" fill="#444444" stroke="none" stroke-width="0.8"/>
<rect x="226.60" y="240.20" width="6.20" height="4.94" fill="#080808" stroke="none" stroke-width="0.8"/>
<rect x="239.22" y="250.09" width="5.20" height="72.51" fill="#fff" stroke="#7a7a7a" stroke-width="1.0"/>
<rect x="238.72" y="249.26" width="6.20" height="0.82" fill="#9a9a9a" stroke="none" stroke-width="0.8"/>
<rect x="238.72" y="245.14" width="6.20" height="4.12" fill="#444444" stroke="none" stroke-width="0.8"/>
<rect x="238.72" y="240.20" width="6.20" height="4.94" fill="#080808" stroke="none" stroke-width="0.8"/>
<rect x="251.34" y="244.32" width="5.20" height="78.28" fill="#fff" stroke="#7a7a7a" stroke-width="1.0"/>
<rect x="250.84" y="243.91" width="6.20" height="0.41" fill="#9a9a9a" stroke="none" stroke-width="0.8"/>
<rect x="250.84" y="241.85" width="6.20" height="2.06" fill="#444444" stroke="none" stroke-width="0.8"/>
<rect x="250.84" y="240.20" width="6.20" height="1.65" fill="#080808" stroke="none" stroke-width="0.8"/>
<rect x="263.46" y="243.50" width="5.20" height="79.10" fill="#fff" stroke="#7a7a7a" stroke-width="1.0"/>
<rect x="262.96" y="243.08" width="6.20" height="0.41" fill="#9a9a9a" stroke="none" stroke-width="0.8"/>
<rect x="262.96" y="241.85" width="6.20" height="1.24" fill="#444444" stroke="none" stroke-width="0.8"/>
<rect x="262.96" y="240.20" width="6.20" height="1.65" fill="#080808" stroke="none" stroke-width="0.8"/>
<rect x="275.58" y="243.50" width="5.20" height="79.10" fill="#fff" stroke="#7a7a7a" stroke-width="1.0"/>
<rect x="275.08" y="243.08" width="6.20" height="0.41" fill="#9a9a9a" stroke="none" stroke-width="0.8"/>
<rect x="275.08" y="241.85" width="6.20" height="1.24" fill="#444444" stroke="none" stroke-width="0.8"/>
<rect x="275.08" y="240.20" width="6.20" height="1.65" fill="#080808" stroke="none" stroke-width="0.8"/>
<rect x="287.70" y="243.08" width="5.20" height="79.52" fill="#fff" stroke="#7a7a7a" stroke-width="1.0"/>
<rect x="287.20" y="242.67" width="6.20" height="0.41" fill="#9a9a9a" stroke="none" stroke-width="0.8"/>
<rect x="287.20" y="241.85" width="6.20" height="0.82" fill="#444444" stroke="none" stroke-width="0.8"/>
<rect x="287.20" y="240.20" width="6.20" height="1.65" fill="#080808" stroke="none" stroke-width="0.8"/>
<rect x="299.82" y="259.98" width="5.20" height="62.62" fill="#fff" stroke="#7a7a7a" stroke-width="1.0"/>
<rect x="299.32" y="259.15" width="6.20" height="0.82" fill="#9a9a9a" stroke="none" stroke-width="0.8"/>
<rect x="299.32" y="245.14" width="6.20" height="14.01" fill="#444444" stroke="none" stroke-width="0.8"/>
<rect x="299.32" y="240.20" width="6.20" height="4.94" fill="#080808" stroke="none" stroke-width="0.8"/>
<rect x="311.94" y="260.80" width="5.20" height="61.80" fill="#fff" stroke="#7a7a7a" stroke-width="1.0"/>
<rect x="311.44" y="259.98" width="6.20" height="0.82" fill="#9a9a9a" stroke="none" stroke-width="0.8"/>
<rect x="311.44" y="245.14" width="6.20" height="14.83" fill="#444444" stroke="none" stroke-width="0.8"/>
<rect x="311.44" y="240.20" width="6.20" height="4.94" fill="#080808" stroke="none" stroke-width="0.8"/>
<rect x="324.06" y="259.98" width="5.20" height="62.62" fill="#fff" stroke="#7a7a7a" stroke-width="1.0"/>
<rect x="323.56" y="259.15" width="6.20" height="0.82" fill="#9a9a9a" stroke="none" stroke-width="0.8"/>
<rect x="323.56" y="244.73" width="6.20" height="14.42" fill="#444444" stroke="none" stroke-width="0.8"/>
<rect x="323.56" y="240.20" width="6.20" height="4.53" fill="#080808" stroke="none" stroke-width="0.8"/>
<rect x="336.18" y="258.33" width="5.20" height="64.27" fill="#fff" stroke="#7a7a7a" stroke-width="1.0"/>
<rect x="335.68" y="257.50" width="6.20" height="0.82" fill="#9a9a9a" stroke="none" stroke-width="0.8"/>
<rect x="335.68" y="244.32" width="6.20" height="13.18" fill="#444444" stroke="none" stroke-width="0.8"/>
<rect x="335.68" y="240.20" width="6.20" height="4.12" fill="#080808" stroke="none" stroke-width="0.8"/>
<rect x="203.90" y="221.92" width="3.60" height="3.60" fill="#080808" stroke="none" stroke-width="0.8"/>
<text x="207.80" y="226.12" font-size="6.4" text-anchor="start" font-weight="normal" fill="#111" stroke="#111" stroke-width="0.3" >%ANN-PI+</text>
<rect x="244.40" y="221.92" width="3.60" height="3.60" fill="#444" stroke="none" stroke-width="0.8"/>
<text x="248.30" y="226.12" font-size="6.4" text-anchor="start" font-weight="normal" fill="#111" stroke="#111" stroke-width="0.3" >%ANN+PI+</text>
<rect x="203.90" y="228.82" width="3.60" height="3.60" fill="#9a9a9a" stroke="none" stroke-width="0.8"/>
<text x="207.80" y="233.02" font-size="6.4" text-anchor="start" font-weight="normal" fill="#111" stroke="#111" stroke-width="0.3" >%ANN+PI-</text>
<rect x="244.50" y="229.02" width="3.40" height="3.40" fill="#fff" stroke="#555" stroke-width="0.7"/>
<text x="248.30" y="233.02" font-size="6.4" text-anchor="start" font-weight="normal" fill="#111" stroke="#111" stroke-width="0.3" >%ANN-PI-</text>
<line x1="370.50" y1="223.18" x2="370.50" y2="347.90" stroke="#444" stroke-width="1"/>
<line x1="367.50" y1="322.90" x2="370.50" y2="322.90" stroke="#444" stroke-width="0.9"/>
<text x="366.00" y="325.10" font-size="6.3" text-anchor="end" font-weight="normal" fill="#222" stroke="#222" stroke-width="0.3" >0</text>
<line x1="367.50" y1="306.28" x2="370.50" y2="306.28" stroke="#444" stroke-width="0.9"/>
<text x="366.00" y="308.48" font-size="6.3" text-anchor="end" font-weight="normal" fill="#222" stroke="#222" stroke-width="0.3" >20</text>
<line x1="367.50" y1="289.66" x2="370.50" y2="289.66" stroke="#444" stroke-width="0.9"/>
<text x="366.00" y="291.86" font-size="6.3" text-anchor="end" font-weight="normal" fill="#222" stroke="#222" stroke-width="0.3" >40</text>
<line x1="367.50" y1="273.04" x2="370.50" y2="273.04" stroke="#444" stroke-width="0.9"/>
<text x="366.00" y="275.24" font-size="6.3" text-anchor="end" font-weight="normal" fill="#222" stroke="#222" stroke-width="0.3" >60</text>
<line x1="367.50" y1="256.42" x2="370.50" y2="256.42" stroke="#444" stroke-width="0.9"/>
<text x="366.00" y="258.62" font-size="6.3" text-anchor="end" font-weight="normal" fill="#222" stroke="#222" stroke-width="0.3" >80</text>
<line x1="367.50" y1="239.80" x2="370.50" y2="239.80" stroke="#444" stroke-width="0.9"/>
<text x="366.00" y="242.00" font-size="6.3" text-anchor="end" font-weight="normal" fill="#222" stroke="#222" stroke-width="0.3" >100</text>
<line x1="367.50" y1="223.18" x2="370.50" y2="223.18" stroke="#444" stroke-width="0.9"/>
<text x="366.00" y="225.38" font-size="6.3" text-anchor="end" font-weight="normal" fill="#222" stroke="#222" stroke-width="0.3" >120</text>
<line x1="370.50" y1="322.90" x2="515.82" y2="322.90" stroke="#444" stroke-width="1"/>
<text x="376.56" y="332.50" font-size="6.2" text-anchor="middle" font-weight="normal" fill="#111" stroke="#111" stroke-width="0.3" >0</text>
<line x1="382.61" y1="322.90" x2="382.61" y2="334.10" stroke="#333" stroke-width="1"/>
<text x="388.67" y="332.50" font-size="6.2" text-anchor="middle" font-weight="normal" fill="#111" stroke="#111" stroke-width="0.3" >10</text>
<line x1="394.72" y1="322.90" x2="394.72" y2="334.10" stroke="#333" stroke-width="1"/>
<text x="400.78" y="332.50" font-size="6.2" text-anchor="middle" font-weight="normal" fill="#111" stroke="#111" stroke-width="0.3" >50</text>
<line x1="406.83" y1="322.90" x2="406.83" y2="334.10" stroke="#333" stroke-width="1"/>
<text x="412.88" y="332.50" font-size="6.2" text-anchor="middle" font-weight="normal" fill="#111" stroke="#111" stroke-width="0.3" >100</text>
<line x1="418.94" y1="322.90" x2="418.94" y2="345.70" stroke="#444" stroke-width="1"/>
<text x="425.00" y="332.50" font-size="6.2" text-anchor="middle" font-weight="normal" fill="#111" stroke="#111" stroke-width="0.3" >0</text>
<line x1="431.05" y1="322.90" x2="431.05" y2="334.10" stroke="#333" stroke-width="1"/>
<text x="437.11" y="332.50" font-size="6.2" text-anchor="middle" font-weight="normal" fill="#111" stroke="#111" stroke-width="0.3" >10</text>
<line x1="443.16" y1="322.90" x2="443.16" y2="334.10" stroke="#333" stroke-width="1"/>
<text x="449.21" y="332.50" font-size="6.2" text-anchor="middle" font-weight="normal" fill="#111" stroke="#111" stroke-width="0.3" >50</text>
<line x1="455.27" y1="322.90" x2="455.27" y2="334.10" stroke="#333" stroke-width="1"/>
<text x="461.32" y="332.50" font-size="6.2" text-anchor="middle" font-weight="normal" fill="#111" stroke="#111" stroke-width="0.3" >100</text>
<line x1="467.38" y1="322.90" x2="467.38" y2="345.70" stroke="#444" stroke-width="1"/>
<text x="473.44" y="332.50" font-size="6.2" text-anchor="middle" font-weight="normal" fill="#111" stroke="#111" stroke-width="0.3" >0</text>
<line x1="479.49" y1="322.90" x2="479.49" y2="334.10" stroke="#333" stroke-width="1"/>
<text x="485.55" y="332.50" font-size="6.2" text-anchor="middle" font-weight="normal" fill="#111" stroke="#111" stroke-width="0.3" >10</text>
<line x1="491.60" y1="322.90" x2="491.60" y2="334.10" stroke="#333" stroke-width="1"/>
<text x="497.66" y="332.50" font-size="6.2" text-anchor="middle" font-weight="normal" fill="#111" stroke="#111" stroke-width="0.3" >50</text>
<line x1="503.71" y1="322.90" x2="503.71" y2="334.10" stroke="#333" stroke-width="1"/>
<text x="509.76" y="332.50" font-size="6.2" text-anchor="middle" font-weight="normal" fill="#111" stroke="#111" stroke-width="0.3" >100</text>
<line x1="515.82" y1="322.90" x2="515.82" y2="345.70" stroke="#444" stroke-width="1"/>
<text x="394.72" y="344.30" font-size="6.2" text-anchor="middle" font-weight="normal" fill="#111" stroke="#111" stroke-width="0.3" >24 h</text>
<text x="443.16" y="344.30" font-size="6.2" text-anchor="middle" font-weight="normal" fill="#111" stroke="#111" stroke-width="0.3" >48 h</text>
<text x="491.60" y="344.30" font-size="6.2" text-anchor="middle" font-weight="normal" fill="#111" stroke="#111" stroke-width="0.3" >72 h</text>
<rect x="373.95" y="259.74" width="5.20" height="63.16" fill="#fff" stroke="#7a7a7a" stroke-width="1.0"/>
<rect x="373.45" y="249.77" width="6.20" height="9.97" fill="#9a9a9a" stroke="none" stroke-width="0.8"/>
<rect x="373.45" y="242.29" width="6.20" height="7.48" fill="#444444" stroke="none" stroke-width="0.8"/>
<rect x="373.45" y="239.80" width="6.20" height="2.49" fill="#080808" stroke="none" stroke-width="0.8"/>
<rect x="386.06" y="260.57" width="5.20" height="62.32" fill="#fff" stroke="#7a7a7a" stroke-width="1.0"/>
<rect x="385.56" y="249.77" width="6.20" height="10.80" fill="#9a9a9a" stroke="none" stroke-width="0.8"/>
<rect x="385.56" y="242.29" width="6.20" height="7.48" fill="#444444" stroke="none" stroke-width="0.8"/>
<rect x="385.56" y="239.80" width="6.20" height="2.49" fill="#080808" stroke="none" stroke-width="0.8"/>
<rect x="398.18" y="247.28" width="5.20" height="75.62" fill="#fff" stroke="#7a7a7a" stroke-width="1.0"/>
<rect x="397.68" y="246.86" width="6.20" height="0.42" fill="#9a9a9a" stroke="none" stroke-width="0.8"/>
<rect x="397.68" y="242.29" width="6.20" height="4.57" fill="#444444" stroke="none" stroke-width="0.8"/>
<rect x="397.68" y="239.80" width="6.20" height="2.49" fill="#080808" stroke="none" stroke-width="0.8"/>
<rect x="410.28" y="247.69" width="5.20" height="75.21" fill="#fff" stroke="#7a7a7a" stroke-width="1.0"/>
<rect x="409.78" y="246.86" width="6.20" height="0.83" fill="#9a9a9a" stroke="none" stroke-width="0.8"/>
<rect x="409.78" y="242.29" width="6.20" height="4.57" fill="#444444" stroke="none" stroke-width="0.8"/>
<rect x="409.78" y="239.80" width="6.20" height="2.49" fill="#080808" stroke="none" stroke-width="0.8"/>
<rect x="422.39" y="251.43" width="5.20" height="71.47" fill="#fff" stroke="#7a7a7a" stroke-width="1.0"/>
<rect x="421.89" y="246.45" width="6.20" height="4.99" fill="#9a9a9a" stroke="none" stroke-width="0.8"/>
<rect x="421.89" y="242.29" width="6.20" height="4.15" fill="#444444" stroke="none" stroke-width="0.8"/>
<rect x="421.89" y="239.80" width="6.20" height="2.49" fill="#080808" stroke="none" stroke-width="0.8"/>
<rect x="434.50" y="251.43" width="5.20" height="71.47" fill="#fff" stroke="#7a7a7a" stroke-width="1.0"/>
<rect x="434.00" y="246.45" width="6.20" height="4.99" fill="#9a9a9a" stroke="none" stroke-width="0.8"/>
<rect x="434.00" y="242.29" width="6.20" height="4.15" fill="#444444" stroke="none" stroke-width="0.8"/>
<rect x="434.00" y="239.80" width="6.20" height="2.49" fill="#080808" stroke="none" stroke-width="0.8"/>
<rect x="446.61" y="245.62" width="5.20" height="77.28" fill="#fff" stroke="#7a7a7a" stroke-width="1.0"/>
<rect x="446.11" y="245.20" width="6.20" height="0.42" fill="#9a9a9a" stroke="none" stroke-width="0.8"/>
<rect x="446.11" y="242.29" width="6.20" height="2.91" fill="#444444" stroke="none" stroke-width="0.8"/>
<rect x="446.11" y="239.80" width="6.20" height="2.49" fill="#080808" stroke="none" stroke-width="0.8"/>
<rect x="458.72" y="246.45" width="5.20" height="76.45" fill="#fff" stroke="#7a7a7a" stroke-width="1.0"/>
<rect x="458.22" y="246.03" width="6.20" height="0.42" fill="#9a9a9a" stroke="none" stroke-width="0.8"/>
<rect x="458.22" y="242.29" width="6.20" height="3.74" fill="#444444" stroke="none" stroke-width="0.8"/>
<rect x="458.22" y="239.80" width="6.20" height="2.49" fill="#080808" stroke="none" stroke-width="0.8"/>
<rect x="470.83" y="258.91" width="5.20" height="63.99" fill="#fff" stroke="#7a7a7a" stroke-width="1.0"/>
<rect x="470.33" y="254.76" width="6.20" height="4.15" fill="#9a9a9a" stroke="none" stroke-width="0.8"/>
<rect x="470.33" y="243.12" width="6.20" height="11.63" fill="#444444" stroke="none" stroke-width="0.8"/>
<rect x="470.33" y="239.80" width="6.20" height="3.32" fill="#080808" stroke="none" stroke-width="0.8"/>
<rect x="482.94" y="257.25" width="5.20" height="65.65" fill="#fff" stroke="#7a7a7a" stroke-width="1.0"/>
<rect x="482.44" y="253.10" width="6.20" height="4.15" fill="#9a9a9a" stroke="none" stroke-width="0.8"/>
<rect x="482.44" y="243.12" width="6.20" height="9.97" fill="#444444" stroke="none" stroke-width="0.8"/>
<rect x="482.44" y="239.80" width="6.20" height="3.32" fill="#080808" stroke="none" stroke-width="0.8"/>
<rect x="495.06" y="248.11" width="5.20" height="74.79" fill="#fff" stroke="#7a7a7a" stroke-width="1.0"/>
<rect x="494.56" y="245.62" width="6.20" height="2.49" fill="#9a9a9a" stroke="none" stroke-width="0.8"/>
<rect x="494.56" y="242.29" width="6.20" height="3.32" fill="#444444" stroke="none" stroke-width="0.8"/>
<rect x="494.56" y="239.80" width="6.20" height="2.49" fill="#080808" stroke="none" stroke-width="0.8"/>
<rect x="507.16" y="249.77" width="5.20" height="73.13" fill="#fff" stroke="#7a7a7a" stroke-width="1.0"/>
<rect x="506.66" y="247.28" width="6.20" height="2.49" fill="#9a9a9a" stroke="none" stroke-width="0.8"/>
<rect x="506.66" y="242.29" width="6.20" height="4.99" fill="#444444" stroke="none" stroke-width="0.8"/>
<rect x="506.66" y="239.80" width="6.20" height="2.49" fill="#080808" stroke="none" stroke-width="0.8"/>
<rect x="375.00" y="221.38" width="3.60" height="3.60" fill="#080808" stroke="none" stroke-width="0.8"/>
<text x="378.90" y="225.58" font-size="6.4" text-anchor="start" font-weight="normal" fill="#111" stroke="#111" stroke-width="0.3" >%ANN-PI+</text>
<rect x="415.50" y="221.38" width="3.60" height="3.60" fill="#444" stroke="none" stroke-width="0.8"/>
<text x="419.40" y="225.58" font-size="6.4" text-anchor="start" font-weight="normal" fill="#111" stroke="#111" stroke-width="0.3" >%ANN+PI+</text>
<rect x="375.00" y="228.28" width="3.60" height="3.60" fill="#9a9a9a" stroke="none" stroke-width="0.8"/>
<text x="378.90" y="232.48" font-size="6.4" text-anchor="start" font-weight="normal" fill="#111" stroke="#111" stroke-width="0.3" >%ANN+PI-</text>
<rect x="415.60" y="228.48" width="3.40" height="3.40" fill="#fff" stroke="#555" stroke-width="0.7"/>
<text x="419.40" y="232.48" font-size="6.4" text-anchor="start" font-weight="normal" fill="#111" stroke="#111" stroke-width="0.3" >%ANN-PI-</text>
<line x1="32.20" y1="416.50" x2="32.20" y2="537.60" stroke="#333" stroke-width="1"/>
<line x1="29.20" y1="537.60" x2="32.20" y2="537.60" stroke="#333" stroke-width="0.9"/>
<text x="26.30" y="540.10" font-size="7.0" text-anchor="end" font-weight="normal" fill="#222" stroke="#222" stroke-width="0.3" >0</text>
<line x1="29.20" y1="517.42" x2="32.20" y2="517.42" stroke="#333" stroke-width="0.9"/>
<text x="26.30" y="519.92" font-size="7.0" text-anchor="end" font-weight="normal" fill="#222" stroke="#222" stroke-width="0.3" >20</text>
<line x1="29.20" y1="497.23" x2="32.20" y2="497.23" stroke="#333" stroke-width="0.9"/>
<text x="26.30" y="499.73" font-size="7.0" text-anchor="end" font-weight="normal" fill="#222" stroke="#222" stroke-width="0.3" >40</text>
<line x1="29.20" y1="477.05" x2="32.20" y2="477.05" stroke="#333" stroke-width="0.9"/>
<text x="26.30" y="479.55" font-size="7.0" text-anchor="end" font-weight="normal" fill="#222" stroke="#222" stroke-width="0.3" >60</text>
<line x1="29.20" y1="456.87" x2="32.20" y2="456.87" stroke="#333" stroke-width="0.9"/>
<text x="26.30" y="459.37" font-size="7.0" text-anchor="end" font-weight="normal" fill="#222" stroke="#222" stroke-width="0.3" >80</text>
<line x1="29.20" y1="436.68" x2="32.20" y2="436.68" stroke="#333" stroke-width="0.9"/>
<text x="26.30" y="439.18" font-size="7.0" text-anchor="end" font-weight="normal" fill="#222" stroke="#222" stroke-width="0.3" >100</text>
<line x1="29.20" y1="416.50" x2="32.20" y2="416.50" stroke="#333" stroke-width="0.9"/>
<text x="26.30" y="419.00" font-size="7.0" text-anchor="end" font-weight="normal" fill="#222" stroke="#222" stroke-width="0.3" >120</text>
<line x1="32.20" y1="537.60" x2="180.20" y2="537.60" stroke="#333" stroke-width="1"/>
<line x1="32.20" y1="537.60" x2="32.20" y2="540.10" stroke="#333" stroke-width="0.9"/>
<line x1="69.20" y1="537.60" x2="69.20" y2="540.10" stroke="#333" stroke-width="0.9"/>
<line x1="106.20" y1="537.60" x2="106.20" y2="540.10" stroke="#333" stroke-width="0.9"/>
<line x1="143.20" y1="537.60" x2="143.20" y2="540.10" stroke="#333" stroke-width="0.9"/>
<line x1="180.20" y1="537.60" x2="180.20" y2="540.10" stroke="#333" stroke-width="0.9"/>
<text x="50.70" y="549.10" font-size="6.9" text-anchor="middle" font-weight="normal" fill="#111" stroke="#111" stroke-width="0.3" >0</text>
<text x="87.70" y="549.10" font-size="6.9" text-anchor="middle" font-weight="normal" fill="#111" stroke="#111" stroke-width="0.3" >10</text>
<text x="124.70" y="549.10" font-size="6.9" text-anchor="middle" font-weight="normal" fill="#111" stroke="#111" stroke-width="0.3" >50</text>
<text x="161.70" y="549.10" font-size="6.9" text-anchor="middle" font-weight="normal" fill="#111" stroke="#111" stroke-width="0.3" >100</text>
<text x="102.20" y="564.10" font-size="8.95" text-anchor="middle" font-weight="normal" fill="#111" stroke="#111" stroke-width="0.3" >Anti-HSP105 Ab (µg/ml)</text>
<rect x="43.10" y="436.68" width="15.20" height="15.14" fill="#808080" stroke="#6a6a6a" stroke-width="0.7"/>
<rect x="43.10" y="451.82" width="15.20" height="41.38" fill="#fff" stroke="#222" stroke-width="0.7"/>
<rect x="43.10" y="493.20" width="15.20" height="44.40" fill="#000" stroke="#000" stroke-width="0.7"/>
<line x1="50.70" y1="434.16" x2="50.70" y2="439.21" stroke="#222" stroke-width="0.8"/>
<line x1="48.90" y1="434.16" x2="52.50" y2="434.16" stroke="#222" stroke-width="0.8"/>
<line x1="48.90" y1="439.21" x2="52.50" y2="439.21" stroke="#222" stroke-width="0.8"/>
<line x1="50.70" y1="447.78" x2="50.70" y2="455.86" stroke="#222" stroke-width="0.8"/>
<line x1="48.90" y1="447.78" x2="52.50" y2="447.78" stroke="#222" stroke-width="0.8"/>
<line x1="48.90" y1="455.86" x2="52.50" y2="455.86" stroke="#222" stroke-width="0.8"/>
<line x1="50.70" y1="489.16" x2="50.70" y2="497.23" stroke="#000" stroke-width="0.8"/>
<line x1="48.90" y1="489.16" x2="52.50" y2="489.16" stroke="#000" stroke-width="0.8"/>
<line x1="48.90" y1="497.23" x2="52.50" y2="497.23" stroke="#000" stroke-width="0.8"/>
<rect x="80.10" y="436.68" width="15.20" height="15.14" fill="#808080" stroke="#6a6a6a" stroke-width="0.7"/>
<rect x="80.10" y="451.82" width="15.20" height="37.34" fill="#fff" stroke="#222" stroke-width="0.7"/>
<rect x="80.10" y="489.16" width="15.20" height="48.44" fill="#000" stroke="#000" stroke-width="0.7"/>
<line x1="87.70" y1="434.67" x2="87.70" y2="438.70" stroke="#222" stroke-width="0.8"/>
<line x1="85.90" y1="434.67" x2="89.50" y2="434.67" stroke="#222" stroke-width="0.8"/>
<line x1="85.90" y1="438.70" x2="89.50" y2="438.70" stroke="#222" stroke-width="0.8"/>
<line x1="87.70" y1="448.79" x2="87.70" y2="454.85" stroke="#222" stroke-width="0.8"/>
<line x1="85.90" y1="448.79" x2="89.50" y2="448.79" stroke="#222" stroke-width="0.8"/>
<line x1="85.90" y1="454.85" x2="89.50" y2="454.85" stroke="#222" stroke-width="0.8"/>
<line x1="87.70" y1="484.11" x2="87.70" y2="494.21" stroke="#000" stroke-width="0.8"/>
<line x1="85.90" y1="484.11" x2="89.50" y2="484.11" stroke="#000" stroke-width="0.8"/>
<line x1="85.90" y1="494.21" x2="89.50" y2="494.21" stroke="#000" stroke-width="0.8"/>
<rect x="117.10" y="436.68" width="15.20" height="15.14" fill="#808080" stroke="#6a6a6a" stroke-width="0.7"/>
<rect x="117.10" y="451.82" width="15.20" height="35.32" fill="#fff" stroke="#222" stroke-width="0.7"/>
<rect x="117.10" y="487.14" width="15.20" height="50.46" fill="#000" stroke="#000" stroke-width="0.7"/>
<line x1="124.70" y1="434.67" x2="124.70" y2="438.70" stroke="#222" stroke-width="0.8"/>
<line x1="122.90" y1="434.67" x2="126.50" y2="434.67" stroke="#222" stroke-width="0.8"/>
<line x1="122.90" y1="438.70" x2="126.50" y2="438.70" stroke="#222" stroke-width="0.8"/>
<line x1="124.70" y1="447.78" x2="124.70" y2="455.86" stroke="#222" stroke-width="0.8"/>
<line x1="122.90" y1="447.78" x2="126.50" y2="447.78" stroke="#222" stroke-width="0.8"/>
<line x1="122.90" y1="455.86" x2="126.50" y2="455.86" stroke="#222" stroke-width="0.8"/>
<line x1="124.70" y1="481.09" x2="124.70" y2="493.20" stroke="#000" stroke-width="0.8"/>
<line x1="122.90" y1="481.09" x2="126.50" y2="481.09" stroke="#000" stroke-width="0.8"/>
<line x1="122.90" y1="493.20" x2="126.50" y2="493.20" stroke="#000" stroke-width="0.8"/>
<rect x="154.10" y="436.68" width="15.20" height="16.15" fill="#808080" stroke="#6a6a6a" stroke-width="0.7"/>
<rect x="154.10" y="452.83" width="15.20" height="36.33" fill="#fff" stroke="#222" stroke-width="0.7"/>
<rect x="154.10" y="489.16" width="15.20" height="48.44" fill="#000" stroke="#000" stroke-width="0.7"/>
<line x1="161.70" y1="434.67" x2="161.70" y2="438.70" stroke="#222" stroke-width="0.8"/>
<line x1="159.90" y1="434.67" x2="163.50" y2="434.67" stroke="#222" stroke-width="0.8"/>
<line x1="159.90" y1="438.70" x2="163.50" y2="438.70" stroke="#222" stroke-width="0.8"/>
<line x1="161.70" y1="447.78" x2="161.70" y2="457.88" stroke="#222" stroke-width="0.8"/>
<line x1="159.90" y1="447.78" x2="163.50" y2="447.78" stroke="#222" stroke-width="0.8"/>
<line x1="159.90" y1="457.88" x2="163.50" y2="457.88" stroke="#222" stroke-width="0.8"/>
<line x1="161.70" y1="486.13" x2="161.70" y2="492.19" stroke="#000" stroke-width="0.8"/>
<line x1="159.90" y1="486.13" x2="163.50" y2="486.13" stroke="#000" stroke-width="0.8"/>
<line x1="159.90" y1="492.19" x2="163.50" y2="492.19" stroke="#000" stroke-width="0.8"/>
<rect x="40.20" y="419.30" width="3.90" height="3.90" fill="#808080" stroke="none" stroke-width="0.8"/>
<text x="44.80" y="423.90" font-size="7.4" text-anchor="start" font-weight="normal" fill="#111" stroke="#111" stroke-width="0.3" >%G2</text>
<rect x="68.00" y="419.50" width="3.60" height="3.60" fill="#fff" stroke="#222" stroke-width="0.8"/>
<text x="71.40" y="423.90" font-size="7.4" text-anchor="start" font-weight="normal" fill="#111" stroke="#111" stroke-width="0.3" >%S</text>
<rect x="88.80" y="419.30" width="3.90" height="3.90" fill="#000" stroke="none" stroke-width="0.8"/>
<text x="93.00" y="423.90" font-size="7.4" text-anchor="start" font-weight="normal" fill="#111" stroke="#111" stroke-width="0.3" >%G1</text>
<line x1="200.50" y1="416.50" x2="200.50" y2="538.00" stroke="#333" stroke-width="1"/>
<line x1="197.50" y1="538.00" x2="200.50" y2="538.00" stroke="#333" stroke-width="0.9"/>
<text x="194.60" y="540.50" font-size="7.0" text-anchor="end" font-weight="normal" fill="#222" stroke="#222" stroke-width="0.3" >0</text>
<line x1="197.50" y1="517.75" x2="200.50" y2="517.75" stroke="#333" stroke-width="0.9"/>
<text x="194.60" y="520.25" font-size="7.0" text-anchor="end" font-weight="normal" fill="#222" stroke="#222" stroke-width="0.3" >20</text>
<line x1="197.50" y1="497.50" x2="200.50" y2="497.50" stroke="#333" stroke-width="0.9"/>
<text x="194.60" y="500.00" font-size="7.0" text-anchor="end" font-weight="normal" fill="#222" stroke="#222" stroke-width="0.3" >40</text>
<line x1="197.50" y1="477.25" x2="200.50" y2="477.25" stroke="#333" stroke-width="0.9"/>
<text x="194.60" y="479.75" font-size="7.0" text-anchor="end" font-weight="normal" fill="#222" stroke="#222" stroke-width="0.3" >60</text>
<line x1="197.50" y1="457.00" x2="200.50" y2="457.00" stroke="#333" stroke-width="0.9"/>
<text x="194.60" y="459.50" font-size="7.0" text-anchor="end" font-weight="normal" fill="#222" stroke="#222" stroke-width="0.3" >80</text>
<line x1="197.50" y1="436.75" x2="200.50" y2="436.75" stroke="#333" stroke-width="0.9"/>
<text x="194.60" y="439.25" font-size="7.0" text-anchor="end" font-weight="normal" fill="#222" stroke="#222" stroke-width="0.3" >100</text>
<line x1="197.50" y1="416.50" x2="200.50" y2="416.50" stroke="#333" stroke-width="0.9"/>
<text x="194.60" y="419.00" font-size="7.0" text-anchor="end" font-weight="normal" fill="#222" stroke="#222" stroke-width="0.3" >120</text>
<line x1="200.50" y1="538.00" x2="348.50" y2="538.00" stroke="#333" stroke-width="1"/>
<line x1="200.50" y1="538.00" x2="200.50" y2="540.50" stroke="#333" stroke-width="0.9"/>
<line x1="237.50" y1="538.00" x2="237.50" y2="540.50" stroke="#333" stroke-width="0.9"/>
<line x1="274.50" y1="538.00" x2="274.50" y2="540.50" stroke="#333" stroke-width="0.9"/>
<line x1="311.50" y1="538.00" x2="311.50" y2="540.50" stroke="#333" stroke-width="0.9"/>
<line x1="348.50" y1="538.00" x2="348.50" y2="540.50" stroke="#333" stroke-width="0.9"/>
<text x="219.00" y="549.50" font-size="6.9" text-anchor="middle" font-weight="normal" fill="#111" stroke="#111" stroke-width="0.3" >0</text>
<text x="256.00" y="549.50" font-size="6.9" text-anchor="middle" font-weight="normal" fill="#111" stroke="#111" stroke-width="0.3" >10</text>
<text x="293.00" y="549.50" font-size="6.9" text-anchor="middle" font-weight="normal" fill="#111" stroke="#111" stroke-width="0.3" >50</text>
<text x="330.00" y="549.50" font-size="6.9" text-anchor="middle" font-weight="normal" fill="#111" stroke="#111" stroke-width="0.3" >100</text>
<text x="272.40" y="564.50" font-size="8.95" text-anchor="middle" font-weight="normal" fill="#111" stroke="#111" stroke-width="0.3" >Anti-HSP105 Ab (µg/ml)</text>
<rect x="211.40" y="436.75" width="15.20" height="21.26" fill="#808080" stroke="#6a6a6a" stroke-width="0.7"/>
<rect x="211.40" y="458.01" width="15.20" height="33.41" fill="#fff" stroke="#222" stroke-width="0.7"/>
<rect x="211.40" y="491.43" width="15.20" height="46.57" fill="#000" stroke="#000" stroke-width="0.7"/>
<line x1="219.00" y1="435.23" x2="219.00" y2="438.27" stroke="#222" stroke-width="0.8"/>
<line x1="217.20" y1="435.23" x2="220.80" y2="435.23" stroke="#222" stroke-width="0.8"/>
<line x1="217.20" y1="438.27" x2="220.80" y2="438.27" stroke="#222" stroke-width="0.8"/>
<line x1="219.00" y1="454.98" x2="219.00" y2="461.05" stroke="#222" stroke-width="0.8"/>
<line x1="217.20" y1="454.98" x2="220.80" y2="454.98" stroke="#222" stroke-width="0.8"/>
<line x1="217.20" y1="461.05" x2="220.80" y2="461.05" stroke="#222" stroke-width="0.8"/>
<line x1="219.00" y1="488.39" x2="219.00" y2="494.46" stroke="#000" stroke-width="0.8"/>
<line x1="217.20" y1="488.39" x2="220.80" y2="488.39" stroke="#000" stroke-width="0.8"/>
<line x1="217.20" y1="494.46" x2="220.80" y2="494.46" stroke="#000" stroke-width="0.8"/>
<rect x="248.40" y="436.75" width="15.20" height="21.26" fill="#808080" stroke="#6a6a6a" stroke-width="0.7"/>
<rect x="248.40" y="458.01" width="15.20" height="36.45" fill="#fff" stroke="#222" stroke-width="0.7"/>
<rect x="248.40" y="494.46" width="15.20" height="43.54" fill="#000" stroke="#000" stroke-width="0.7"/>
<line x1="256.00" y1="434.73" x2="256.00" y2="438.77" stroke="#222" stroke-width="0.8"/>
<line x1="254.20" y1="434.73" x2="257.80" y2="434.73" stroke="#222" stroke-width="0.8"/>
<line x1="254.20" y1="438.77" x2="257.80" y2="438.77" stroke="#222" stroke-width="0.8"/>
<line x1="256.00" y1="453.96" x2="256.00" y2="462.06" stroke="#222" stroke-width="0.8"/>
<line x1="254.20" y1="453.96" x2="257.80" y2="453.96" stroke="#222" stroke-width="0.8"/>
<line x1="254.20" y1="462.06" x2="257.80" y2="462.06" stroke="#222" stroke-width="0.8"/>
<line x1="256.00" y1="491.43" x2="256.00" y2="497.50" stroke="#000" stroke-width="0.8"/>
<line x1="254.20" y1="491.43" x2="257.80" y2="491.43" stroke="#000" stroke-width="0.8"/>
<line x1="254.20" y1="497.50" x2="257.80" y2="497.50" stroke="#000" stroke-width="0.8"/>
<rect x="285.40" y="436.75" width="15.20" height="29.36" fill="#808080" stroke="#6a6a6a" stroke-width="0.7"/>
<rect x="285.40" y="466.11" width="15.20" height="25.31" fill="#fff" stroke="#222" stroke-width="0.7"/>
<rect x="285.40" y="491.43" width="15.20" height="46.57" fill="#000" stroke="#000" stroke-width="0.7"/>
<line x1="293.00" y1="432.70" x2="293.00" y2="440.80" stroke="#222" stroke-width="0.8"/>
<line x1="291.20" y1="432.70" x2="294.80" y2="432.70" stroke="#222" stroke-width="0.8"/>
<line x1="291.20" y1="440.80" x2="294.80" y2="440.80" stroke="#222" stroke-width="0.8"/>
<line x1="293.00" y1="462.06" x2="293.00" y2="470.16" stroke="#222" stroke-width="0.8"/>
<line x1="291.20" y1="462.06" x2="294.80" y2="462.06" stroke="#222" stroke-width="0.8"/>
<line x1="291.20" y1="470.16" x2="294.80" y2="470.16" stroke="#222" stroke-width="0.8"/>
<line x1="293.00" y1="485.35" x2="293.00" y2="497.50" stroke="#000" stroke-width="0.8"/>
<line x1="291.20" y1="485.35" x2="294.80" y2="485.35" stroke="#000" stroke-width="0.8"/>
<line x1="291.20" y1="497.50" x2="294.80" y2="497.50" stroke="#000" stroke-width="0.8"/>
<rect x="322.40" y="436.75" width="15.20" height="19.24" fill="#808080" stroke="#6a6a6a" stroke-width="0.7"/>
<rect x="322.40" y="455.99" width="15.20" height="35.44" fill="#fff" stroke="#222" stroke-width="0.7"/>
<rect x="322.40" y="491.43" width="15.20" height="46.57" fill="#000" stroke="#000" stroke-width="0.7"/>
<line x1="330.00" y1="434.73" x2="330.00" y2="438.77" stroke="#222" stroke-width="0.8"/>
<line x1="328.20" y1="434.73" x2="331.80" y2="434.73" stroke="#222" stroke-width="0.8"/>
<line x1="328.20" y1="438.77" x2="331.80" y2="438.77" stroke="#222" stroke-width="0.8"/>
<line x1="330.00" y1="450.93" x2="330.00" y2="461.05" stroke="#222" stroke-width="0.8"/>
<line x1="328.20" y1="450.93" x2="331.80" y2="450.93" stroke="#222" stroke-width="0.8"/>
<line x1="328.20" y1="461.05" x2="331.80" y2="461.05" stroke="#222" stroke-width="0.8"/>
<line x1="330.00" y1="488.39" x2="330.00" y2="494.46" stroke="#000" stroke-width="0.8"/>
<line x1="328.20" y1="488.39" x2="331.80" y2="488.39" stroke="#000" stroke-width="0.8"/>
<line x1="328.20" y1="494.46" x2="331.80" y2="494.46" stroke="#000" stroke-width="0.8"/>
<rect x="208.50" y="419.30" width="3.90" height="3.90" fill="#808080" stroke="none" stroke-width="0.8"/>
<text x="213.10" y="423.90" font-size="7.4" text-anchor="start" font-weight="normal" fill="#111" stroke="#111" stroke-width="0.3" >%G2</text>
<rect x="236.30" y="419.50" width="3.60" height="3.60" fill="#fff" stroke="#222" stroke-width="0.8"/>
<text x="239.70" y="423.90" font-size="7.4" text-anchor="start" font-weight="normal" fill="#111" stroke="#111" stroke-width="0.3" >%S</text>
<rect x="257.10" y="419.30" width="3.90" height="3.90" fill="#000" stroke="none" stroke-width="0.8"/>
<text x="261.30" y="423.90" font-size="7.4" text-anchor="start" font-weight="normal" fill="#111" stroke="#111" stroke-width="0.3" >%G1</text>
<line x1="367.90" y1="416.50" x2="367.90" y2="538.00" stroke="#333" stroke-width="1"/>
<line x1="364.90" y1="538.00" x2="367.90" y2="538.00" stroke="#333" stroke-width="0.9"/>
<text x="362.00" y="540.50" font-size="7.0" text-anchor="end" font-weight="normal" fill="#222" stroke="#222" stroke-width="0.3" >0</text>
<line x1="364.90" y1="517.75" x2="367.90" y2="517.75" stroke="#333" stroke-width="0.9"/>
<text x="362.00" y="520.25" font-size="7.0" text-anchor="end" font-weight="normal" fill="#222" stroke="#222" stroke-width="0.3" >20</text>
<line x1="364.90" y1="497.50" x2="367.90" y2="497.50" stroke="#333" stroke-width="0.9"/>
<text x="362.00" y="500.00" font-size="7.0" text-anchor="end" font-weight="normal" fill="#222" stroke="#222" stroke-width="0.3" >40</text>
<line x1="364.90" y1="477.25" x2="367.90" y2="477.25" stroke="#333" stroke-width="0.9"/>
<text x="362.00" y="479.75" font-size="7.0" text-anchor="end" font-weight="normal" fill="#222" stroke="#222" stroke-width="0.3" >60</text>
<line x1="364.90" y1="457.00" x2="367.90" y2="457.00" stroke="#333" stroke-width="0.9"/>
<text x="362.00" y="459.50" font-size="7.0" text-anchor="end" font-weight="normal" fill="#222" stroke="#222" stroke-width="0.3" >80</text>
<line x1="364.90" y1="436.75" x2="367.90" y2="436.75" stroke="#333" stroke-width="0.9"/>
<text x="362.00" y="439.25" font-size="7.0" text-anchor="end" font-weight="normal" fill="#222" stroke="#222" stroke-width="0.3" >100</text>
<line x1="364.90" y1="416.50" x2="367.90" y2="416.50" stroke="#333" stroke-width="0.9"/>
<text x="362.00" y="419.00" font-size="7.0" text-anchor="end" font-weight="normal" fill="#222" stroke="#222" stroke-width="0.3" >120</text>
<line x1="367.90" y1="538.00" x2="516.10" y2="538.00" stroke="#333" stroke-width="1"/>
<line x1="367.90" y1="538.00" x2="367.90" y2="540.50" stroke="#333" stroke-width="0.9"/>
<line x1="404.95" y1="538.00" x2="404.95" y2="540.50" stroke="#333" stroke-width="0.9"/>
<line x1="442.00" y1="538.00" x2="442.00" y2="540.50" stroke="#333" stroke-width="0.9"/>
<line x1="479.05" y1="538.00" x2="479.05" y2="540.50" stroke="#333" stroke-width="0.9"/>
<line x1="516.10" y1="538.00" x2="516.10" y2="540.50" stroke="#333" stroke-width="0.9"/>
<text x="386.42" y="549.50" font-size="6.9" text-anchor="middle" font-weight="normal" fill="#111" stroke="#111" stroke-width="0.3" >0</text>
<text x="423.47" y="549.50" font-size="6.9" text-anchor="middle" font-weight="normal" fill="#111" stroke="#111" stroke-width="0.3" >10</text>
<text x="460.52" y="549.50" font-size="6.9" text-anchor="middle" font-weight="normal" fill="#111" stroke="#111" stroke-width="0.3" >50</text>
<text x="497.57" y="549.50" font-size="6.9" text-anchor="middle" font-weight="normal" fill="#111" stroke="#111" stroke-width="0.3" >100</text>
<text x="442.60" y="564.50" font-size="8.95" text-anchor="middle" font-weight="normal" fill="#111" stroke="#111" stroke-width="0.3" >Anti-HSP105 Ab (µg/ml)</text>
<rect x="378.82" y="436.75" width="15.20" height="14.17" fill="#808080" stroke="#6a6a6a" stroke-width="0.7"/>
<rect x="378.82" y="450.93" width="15.20" height="33.41" fill="#fff" stroke="#222" stroke-width="0.7"/>
<rect x="378.82" y="484.34" width="15.20" height="53.66" fill="#000" stroke="#000" stroke-width="0.7"/>
<line x1="386.42" y1="433.71" x2="386.42" y2="439.79" stroke="#222" stroke-width="0.8"/>
<line x1="384.62" y1="433.71" x2="388.22" y2="433.71" stroke="#222" stroke-width="0.8"/>
<line x1="384.62" y1="439.79" x2="388.22" y2="439.79" stroke="#222" stroke-width="0.8"/>
<line x1="386.42" y1="446.88" x2="386.42" y2="454.98" stroke="#222" stroke-width="0.8"/>
<line x1="384.62" y1="446.88" x2="388.22" y2="446.88" stroke="#222" stroke-width="0.8"/>
<line x1="384.62" y1="454.98" x2="388.22" y2="454.98" stroke="#222" stroke-width="0.8"/>
<line x1="386.42" y1="478.26" x2="386.42" y2="490.41" stroke="#000" stroke-width="0.8"/>
<line x1="384.62" y1="478.26" x2="388.22" y2="478.26" stroke="#000" stroke-width="0.8"/>
<line x1="384.62" y1="490.41" x2="388.22" y2="490.41" stroke="#000" stroke-width="0.8"/>
<rect x="415.87" y="436.75" width="15.20" height="14.17" fill="#808080" stroke="#6a6a6a" stroke-width="0.7"/>
<rect x="415.87" y="450.93" width="15.20" height="32.40" fill="#fff" stroke="#222" stroke-width="0.7"/>
<rect x="415.87" y="483.32" width="15.20" height="54.67" fill="#000" stroke="#000" stroke-width="0.7"/>
<line x1="423.47" y1="433.71" x2="423.47" y2="439.79" stroke="#222" stroke-width="0.8"/>
<line x1="421.67" y1="433.71" x2="425.27" y2="433.71" stroke="#222" stroke-width="0.8"/>
<line x1="421.67" y1="439.79" x2="425.27" y2="439.79" stroke="#222" stroke-width="0.8"/>
<line x1="423.47" y1="446.88" x2="423.47" y2="454.98" stroke="#222" stroke-width="0.8"/>
<line x1="421.67" y1="446.88" x2="425.27" y2="446.88" stroke="#222" stroke-width="0.8"/>
<line x1="421.67" y1="454.98" x2="425.27" y2="454.98" stroke="#222" stroke-width="0.8"/>
<line x1="423.47" y1="477.25" x2="423.47" y2="489.40" stroke="#000" stroke-width="0.8"/>
<line x1="421.67" y1="477.25" x2="425.27" y2="477.25" stroke="#000" stroke-width="0.8"/>
<line x1="421.67" y1="489.40" x2="425.27" y2="489.40" stroke="#000" stroke-width="0.8"/>
<rect x="452.92" y="436.75" width="15.20" height="19.24" fill="#808080" stroke="#6a6a6a" stroke-width="0.7"/>
<rect x="452.92" y="455.99" width="15.20" height="31.39" fill="#fff" stroke="#222" stroke-width="0.7"/>
<rect x="452.92" y="487.38" width="15.20" height="50.62" fill="#000" stroke="#000" stroke-width="0.7"/>
<line x1="460.52" y1="435.23" x2="460.52" y2="438.27" stroke="#222" stroke-width="0.8"/>
<line x1="458.72" y1="435.23" x2="462.32" y2="435.23" stroke="#222" stroke-width="0.8"/>
<line x1="458.72" y1="438.27" x2="462.32" y2="438.27" stroke="#222" stroke-width="0.8"/>
<line x1="460.52" y1="452.95" x2="460.52" y2="459.02" stroke="#222" stroke-width="0.8"/>
<line x1="458.72" y1="452.95" x2="462.32" y2="452.95" stroke="#222" stroke-width="0.8"/>
<line x1="458.72" y1="459.02" x2="462.32" y2="459.02" stroke="#222" stroke-width="0.8"/>
<line x1="460.52" y1="483.32" x2="460.52" y2="491.43" stroke="#000" stroke-width="0.8"/>
<line x1="458.72" y1="483.32" x2="462.32" y2="483.32" stroke="#000" stroke-width="0.8"/>
<line x1="458.72" y1="491.43" x2="462.32" y2="491.43" stroke="#000" stroke-width="0.8"/>
<rect x="489.97" y="436.75" width="15.20" height="23.29" fill="#808080" stroke="#6a6a6a" stroke-width="0.7"/>
<rect x="489.97" y="460.04" width="15.20" height="25.31" fill="#fff" stroke="#222" stroke-width="0.7"/>
<rect x="489.97" y="485.35" width="15.20" height="52.65" fill="#000" stroke="#000" stroke-width="0.7"/>
<line x1="497.57" y1="433.71" x2="497.57" y2="439.79" stroke="#222" stroke-width="0.8"/>
<line x1="495.77" y1="433.71" x2="499.37" y2="433.71" stroke="#222" stroke-width="0.8"/>
<line x1="495.77" y1="439.79" x2="499.37" y2="439.79" stroke="#222" stroke-width="0.8"/>
<line x1="497.57" y1="455.99" x2="497.57" y2="464.09" stroke="#222" stroke-width="0.8"/>
<line x1="495.77" y1="455.99" x2="499.37" y2="455.99" stroke="#222" stroke-width="0.8"/>
<line x1="495.77" y1="464.09" x2="499.37" y2="464.09" stroke="#222" stroke-width="0.8"/>
<line x1="497.57" y1="481.30" x2="497.57" y2="489.40" stroke="#000" stroke-width="0.8"/>
<line x1="495.77" y1="481.30" x2="499.37" y2="481.30" stroke="#000" stroke-width="0.8"/>
<line x1="495.77" y1="489.40" x2="499.37" y2="489.40" stroke="#000" stroke-width="0.8"/>
<rect x="375.90" y="419.30" width="3.90" height="3.90" fill="#808080" stroke="none" stroke-width="0.8"/>
<text x="380.50" y="423.90" font-size="7.4" text-anchor="start" font-weight="normal" fill="#111" stroke="#111" stroke-width="0.3" >%G2</text>
<rect x="403.70" y="419.50" width="3.60" height="3.60" fill="#fff" stroke="#222" stroke-width="0.8"/>
<text x="407.10" y="423.90" font-size="7.4" text-anchor="start" font-weight="normal" fill="#111" stroke="#111" stroke-width="0.3" >%S</text>
<rect x="424.50" y="419.30" width="3.90" height="3.90" fill="#000" stroke="none" stroke-width="0.8"/>
<text x="428.70" y="423.90" font-size="7.4" text-anchor="start" font-weight="normal" fill="#111" stroke="#111" stroke-width="0.3" >%G1</text>
<line x1="142.80" y1="619.85" x2="142.80" y2="749.60" stroke="#222" stroke-width="0.9"/>
<line x1="140.30" y1="749.60" x2="142.80" y2="749.60" stroke="#222" stroke-width="0.8"/>
<text x="140.00" y="751.50" font-size="5.5" text-anchor="end" font-weight="normal" fill="#222" stroke="#222" stroke-width="0.3" >0</text>
<line x1="140.30" y1="706.35" x2="142.80" y2="706.35" stroke="#222" stroke-width="0.8"/>
<text x="140.00" y="708.25" font-size="5.5" text-anchor="end" font-weight="normal" fill="#222" stroke="#222" stroke-width="0.3" >1000</text>
<line x1="140.30" y1="663.10" x2="142.80" y2="663.10" stroke="#222" stroke-width="0.8"/>
<text x="140.00" y="665.00" font-size="5.5" text-anchor="end" font-weight="normal" fill="#222" stroke="#222" stroke-width="0.3" >2000</text>
<line x1="140.30" y1="619.85" x2="142.80" y2="619.85" stroke="#222" stroke-width="0.8"/>
<text x="140.00" y="621.75" font-size="5.5" text-anchor="end" font-weight="normal" fill="#222" stroke="#222" stroke-width="0.3" >3000</text>
<line x1="142.80" y1="749.60" x2="273.30" y2="749.60" stroke="#222" stroke-width="0.9"/>
<text x="143.40" y="756.80" font-size="5.6" text-anchor="middle" font-weight="normal" fill="#222" stroke="#222" stroke-width="0.3" >0</text>
<text x="165.00" y="756.80" font-size="5.6" text-anchor="middle" font-weight="normal" fill="#222" stroke="#222" stroke-width="0.3" >3</text>
<text x="169.60" y="756.80" font-size="5.6" text-anchor="middle" font-weight="normal" fill="#222" stroke="#222" stroke-width="0.3" >4</text>
<text x="190.10" y="756.80" font-size="5.6" text-anchor="middle" font-weight="normal" fill="#222" stroke="#222" stroke-width="0.3" >6</text>
<text x="210.90" y="756.80" font-size="5.6" text-anchor="middle" font-weight="normal" fill="#222" stroke="#222" stroke-width="0.3" >8</text>
<text x="231.70" y="756.80" font-size="5.6" text-anchor="middle" font-weight="normal" fill="#222" stroke="#222" stroke-width="0.3" >10</text>
<text x="252.50" y="756.80" font-size="5.6" text-anchor="middle" font-weight="normal" fill="#222" stroke="#222" stroke-width="0.3" >12</text>
<text x="273.30" y="756.80" font-size="5.6" text-anchor="middle" font-weight="normal" fill="#222" stroke="#222" stroke-width="0.3" >14</text>
<line x1="190.10" y1="749.60" x2="190.10" y2="751.80" stroke="#222" stroke-width="0.8"/>
<line x1="210.90" y1="749.60" x2="210.90" y2="751.80" stroke="#222" stroke-width="0.8"/>
<line x1="231.70" y1="749.60" x2="231.70" y2="751.80" stroke="#222" stroke-width="0.8"/>
<line x1="252.50" y1="749.60" x2="252.50" y2="751.80" stroke="#222" stroke-width="0.8"/>
<line x1="273.30" y1="749.60" x2="273.30" y2="751.80" stroke="#222" stroke-width="0.8"/>
<polyline points="169.30,748.30 200.50,746.14 242.10,733.17 262.90,727.98" fill="none" stroke="#888" stroke-width="1.1"/>
<polyline points="169.30,748.30 200.50,744.84 242.10,725.60 262.90,717.90" fill="none" stroke="#111" stroke-width="1.1"/>
<polyline points="169.30,748.52 200.50,747.00 242.10,740.47 262.90,736.67" fill="none" stroke="#222" stroke-width="1.1"/>
<line x1="242.10" y1="721.92" x2="242.10" y2="729.27" stroke="#222" stroke-width="0.8"/>
<line x1="240.30" y1="721.92" x2="243.90" y2="721.92" stroke="#222" stroke-width="0.8"/>
<line x1="240.30" y1="729.27" x2="243.90" y2="729.27" stroke="#222" stroke-width="0.8"/>
<line x1="262.90" y1="713.92" x2="262.90" y2="721.88" stroke="#222" stroke-width="0.8"/>
<line x1="261.10" y1="713.92" x2="264.70" y2="713.92" stroke="#222" stroke-width="0.8"/>
<line x1="261.10" y1="721.88" x2="264.70" y2="721.88" stroke="#222" stroke-width="0.8"/>
<line x1="242.10" y1="729.71" x2="242.10" y2="736.62" stroke="#666" stroke-width="0.8"/>
<line x1="240.30" y1="729.71" x2="243.90" y2="729.71" stroke="#666" stroke-width="0.8"/>
<line x1="240.30" y1="736.62" x2="243.90" y2="736.62" stroke="#666" stroke-width="0.8"/>
<line x1="262.90" y1="724.95" x2="262.90" y2="731.00" stroke="#666" stroke-width="0.8"/>
<line x1="261.10" y1="724.95" x2="264.70" y2="724.95" stroke="#666" stroke-width="0.8"/>
<line x1="261.10" y1="731.00" x2="264.70" y2="731.00" stroke="#666" stroke-width="0.8"/>
<line x1="242.10" y1="738.31" x2="242.10" y2="742.64" stroke="#444" stroke-width="0.8"/>
<line x1="240.30" y1="738.31" x2="243.90" y2="738.31" stroke="#444" stroke-width="0.8"/>
<line x1="240.30" y1="742.64" x2="243.90" y2="742.64" stroke="#444" stroke-width="0.8"/>
<line x1="262.90" y1="733.21" x2="262.90" y2="740.13" stroke="#444" stroke-width="0.8"/>
<line x1="261.10" y1="733.21" x2="264.70" y2="733.21" stroke="#444" stroke-width="0.8"/>
<line x1="261.10" y1="740.13" x2="264.70" y2="740.13" stroke="#444" stroke-width="0.8"/>
<circle cx="169.30" cy="748.52" r="1.75" fill="#fff" stroke="#222" stroke-width="0.9"/>
<circle cx="200.50" cy="747.00" r="1.75" fill="#fff" stroke="#222" stroke-width="0.9"/>
<rect x="240.40" y="738.77" width="3.40" height="3.40" fill="#fff" stroke="#222" stroke-width="0.9"/>
<circle cx="262.90" cy="736.67" r="1.75" fill="#fff" stroke="#222" stroke-width="0.9"/>
<path d="M169.30,746.10 L171.50,748.30 L169.30,750.50 L167.10,748.30 Z" fill="#808080"/>
<path d="M200.50,743.94 L202.70,746.14 L200.50,748.34 L198.30,746.14 Z" fill="#808080"/>
<path d="M242.10,730.97 L244.30,733.17 L242.10,735.37 L239.90,733.17 Z" fill="#808080"/>
<path d="M262.90,725.77 L265.10,727.98 L262.90,730.18 L260.70,727.98 Z" fill="#808080"/>
<circle cx="169.30" cy="748.30" r="2.10" fill="#111"/>
<circle cx="200.50" cy="744.84" r="2.10" fill="#111"/>
<circle cx="242.10" cy="725.60" r="2.10" fill="#111"/>
<circle cx="262.90" cy="717.90" r="2.10" fill="#111"/>
<text x="242.10" y="747.20" font-size="6.2" text-anchor="middle" font-weight="bold" fill="#111" >***</text>
<text x="242.10" y="750.00" font-size="6.2" text-anchor="middle" font-weight="bold" fill="#111" >*</text>
<text x="263.00" y="744.80" font-size="6.2" text-anchor="middle" font-weight="bold" fill="#111" >***</text>
<text x="263.00" y="748.00" font-size="6.2" text-anchor="middle" font-weight="bold" fill="#111" >*</text>
<path d="M169.60,762.30 L172.40,767.80 L170.35,767.40 L170.35,770.80 L168.85,770.80 L168.85,767.40 L166.80,767.80 Z" fill="#000"/>
<path d="M210.80,762.30 L213.60,767.80 L211.55,767.40 L211.55,770.80 L210.05,770.80 L210.05,767.40 L208.00,767.80 Z" fill="#000"/>
<path d="M252.60,762.30 L255.40,767.80 L253.35,767.40 L253.35,770.80 L251.85,770.80 L251.85,767.40 L249.80,767.80 Z" fill="#000"/>
<text transform="translate(124.80,685.00) rotate(-90)" font-size="10.1" text-anchor="middle" fill="#111" stroke="#111" stroke-width="0.22">Tumor volume</text>
<text x="210.00" y="783.80" font-size="9.6" text-anchor="middle" font-weight="normal" fill="#111" stroke="#111" stroke-width="0.3" >Days</text>
<line x1="146.80" y1="617.50" x2="153.80" y2="617.50" stroke="#777" stroke-width="0.9"/>
<path d="M150.30,615.74 L152.06,617.50 L150.30,619.26 L148.54,617.50 Z" fill="#808080"/>
<text x="157.10" y="619.90" font-size="7.3" text-anchor="start" font-weight="normal" fill="#111" stroke="#111" stroke-width="0.3" >ctrl</text>
<line x1="146.80" y1="625.80" x2="153.80" y2="625.80" stroke="#111" stroke-width="0.9"/>
<circle cx="150.30" cy="625.80" r="1.68" fill="#111"/>
<text x="157.10" y="628.20" font-size="7.3" text-anchor="start" font-weight="normal" fill="#111" stroke="#111" stroke-width="0.3" >rabbit IgG</text>
<line x1="146.80" y1="633.80" x2="153.80" y2="633.80" stroke="#555" stroke-width="0.9"/>
<circle cx="150.30" cy="633.80" r="1.40" fill="#fff" stroke="#444" stroke-width="0.9"/>
<text x="157.10" y="636.20" font-size="7.3" text-anchor="start" font-weight="normal" fill="#111" stroke="#111" stroke-width="0.3" >anti-HSP105 Ab</text>
<line x1="315.60" y1="620.92" x2="315.60" y2="750.40" stroke="#222" stroke-width="0.9"/>
<line x1="313.10" y1="750.40" x2="315.60" y2="750.40" stroke="#222" stroke-width="0.8"/>
<text x="312.80" y="752.30" font-size="5.5" text-anchor="end" font-weight="normal" fill="#222" stroke="#222" stroke-width="0.3" >0</text>
<line x1="313.10" y1="707.24" x2="315.60" y2="707.24" stroke="#222" stroke-width="0.8"/>
<text x="312.80" y="709.14" font-size="5.5" text-anchor="end" font-weight="normal" fill="#222" stroke="#222" stroke-width="0.3" >1000</text>
<line x1="313.10" y1="664.08" x2="315.60" y2="664.08" stroke="#222" stroke-width="0.8"/>
<text x="312.80" y="665.98" font-size="5.5" text-anchor="end" font-weight="normal" fill="#222" stroke="#222" stroke-width="0.3" >2000</text>
<line x1="313.10" y1="620.92" x2="315.60" y2="620.92" stroke="#222" stroke-width="0.8"/>
<text x="312.80" y="622.82" font-size="5.5" text-anchor="end" font-weight="normal" fill="#222" stroke="#222" stroke-width="0.3" >3000</text>
<line x1="315.60" y1="750.40" x2="445.70" y2="750.40" stroke="#222" stroke-width="0.9"/>
<text x="316.30" y="757.60" font-size="5.6" text-anchor="middle" font-weight="normal" fill="#222" stroke="#222" stroke-width="0.3" >0</text>
<text x="341.40" y="757.60" font-size="5.6" text-anchor="middle" font-weight="normal" fill="#222" stroke="#222" stroke-width="0.3" >5</text>
<text x="345.20" y="757.60" font-size="5.6" text-anchor="middle" font-weight="normal" fill="#222" stroke="#222" stroke-width="0.3" >6</text>
<text x="365.00" y="757.60" font-size="5.6" text-anchor="middle" font-weight="normal" fill="#222" stroke="#222" stroke-width="0.3" >8</text>
<text x="385.10" y="757.60" font-size="5.6" text-anchor="middle" font-weight="normal" fill="#222" stroke="#222" stroke-width="0.3" >10</text>
<text x="405.30" y="757.60" font-size="5.6" text-anchor="middle" font-weight="normal" fill="#222" stroke="#222" stroke-width="0.3" >12</text>
<text x="425.50" y="757.60" font-size="5.6" text-anchor="middle" font-weight="normal" fill="#222" stroke="#222" stroke-width="0.3" >14</text>
<text x="445.70" y="757.60" font-size="5.6" text-anchor="middle" font-weight="normal" fill="#222" stroke="#222" stroke-width="0.3" >16</text>
<line x1="344.70" y1="750.40" x2="344.70" y2="752.60" stroke="#222" stroke-width="0.8"/>
<line x1="364.90" y1="750.40" x2="364.90" y2="752.60" stroke="#222" stroke-width="0.8"/>
<line x1="385.10" y1="750.40" x2="385.10" y2="752.60" stroke="#222" stroke-width="0.8"/>
<line x1="405.30" y1="750.40" x2="405.30" y2="752.60" stroke="#222" stroke-width="0.8"/>
<line x1="425.50" y1="750.40" x2="425.50" y2="752.60" stroke="#222" stroke-width="0.8"/>
<line x1="445.70" y1="750.40" x2="445.70" y2="752.60" stroke="#222" stroke-width="0.8"/>
<polyline points="344.70,747.38 364.90,744.36 385.10,727.53 415.40,684.37 435.60,668.40" fill="none" stroke="#888" stroke-width="1.1"/>
<polyline points="344.70,746.95 385.10,718.46 415.40,667.10 435.60,653.29" fill="none" stroke="#111" stroke-width="1.1"/>
<polyline points="344.70,747.81 364.90,746.08 385.10,742.20 415.40,715.44 435.60,698.61" fill="none" stroke="#222" stroke-width="1.1"/>
<line x1="385.10" y1="712.42" x2="385.10" y2="724.50" stroke="#333" stroke-width="0.8"/>
<line x1="383.30" y1="712.42" x2="386.90" y2="712.42" stroke="#333" stroke-width="0.8"/>
<line x1="383.30" y1="724.50" x2="386.90" y2="724.50" stroke="#333" stroke-width="0.8"/>
<line x1="415.40" y1="652.00" x2="415.40" y2="682.21" stroke="#333" stroke-width="0.8"/>
<line x1="413.60" y1="652.00" x2="417.20" y2="652.00" stroke="#333" stroke-width="0.8"/>
<line x1="413.60" y1="682.21" x2="417.20" y2="682.21" stroke="#333" stroke-width="0.8"/>
<line x1="435.60" y1="636.46" x2="435.60" y2="670.12" stroke="#333" stroke-width="0.8"/>
<line x1="433.80" y1="636.46" x2="437.40" y2="636.46" stroke="#333" stroke-width="0.8"/>
<line x1="433.80" y1="670.12" x2="437.40" y2="670.12" stroke="#333" stroke-width="0.8"/>
<line x1="385.10" y1="724.94" x2="385.10" y2="730.11" stroke="#777" stroke-width="0.8"/>
<line x1="383.30" y1="724.94" x2="386.90" y2="724.94" stroke="#777" stroke-width="0.8"/>
<line x1="383.30" y1="730.11" x2="386.90" y2="730.11" stroke="#777" stroke-width="0.8"/>
<line x1="415.40" y1="679.19" x2="415.40" y2="689.54" stroke="#777" stroke-width="0.8"/>
<line x1="413.60" y1="679.19" x2="417.20" y2="679.19" stroke="#777" stroke-width="0.8"/>
<line x1="413.60" y1="689.54" x2="417.20" y2="689.54" stroke="#777" stroke-width="0.8"/>
<line x1="435.60" y1="662.79" x2="435.60" y2="674.01" stroke="#777" stroke-width="0.8"/>
<line x1="433.80" y1="662.79" x2="437.40" y2="662.79" stroke="#777" stroke-width="0.8"/>
<line x1="433.80" y1="674.01" x2="437.40" y2="674.01" stroke="#777" stroke-width="0.8"/>
<line x1="415.40" y1="711.12" x2="415.40" y2="719.76" stroke="#555" stroke-width="0.8"/>
<line x1="413.60" y1="711.12" x2="417.20" y2="711.12" stroke="#555" stroke-width="0.8"/>
<line x1="413.60" y1="719.76" x2="417.20" y2="719.76" stroke="#555" stroke-width="0.8"/>
<line x1="435.60" y1="692.13" x2="435.60" y2="705.08" stroke="#555" stroke-width="0.8"/>
<line x1="433.80" y1="692.13" x2="437.40" y2="692.13" stroke="#555" stroke-width="0.8"/>
<line x1="433.80" y1="705.08" x2="437.40" y2="705.08" stroke="#555" stroke-width="0.8"/>
<circle cx="344.70" cy="747.81" r="1.75" fill="#fff" stroke="#222" stroke-width="0.9"/>
<circle cx="364.90" cy="746.08" r="1.75" fill="#fff" stroke="#222" stroke-width="0.9"/>
<circle cx="385.10" cy="742.20" r="1.75" fill="#fff" stroke="#222" stroke-width="0.9"/>
<circle cx="415.40" cy="715.44" r="1.75" fill="#fff" stroke="#222" stroke-width="0.9"/>
<circle cx="435.60" cy="698.61" r="1.75" fill="#fff" stroke="#222" stroke-width="0.9"/>
<path d="M344.70,745.18 L346.90,747.38 L344.70,749.58 L342.50,747.38 Z" fill="#808080"/>
<path d="M364.90,742.16 L367.10,744.36 L364.90,746.56 L362.70,744.36 Z" fill="#808080"/>
<path d="M385.10,725.33 L387.30,727.53 L385.10,729.73 L382.90,727.53 Z" fill="#808080"/>
<path d="M415.40,682.17 L417.60,684.37 L415.40,686.57 L413.20,684.37 Z" fill="#808080"/>
<path d="M435.60,666.20 L437.80,668.40 L435.60,670.60 L433.40,668.40 Z" fill="#808080"/>
<circle cx="344.70" cy="746.95" r="2.10" fill="#111"/>
<circle cx="385.10" cy="718.46" r="2.10" fill="#111"/>
<circle cx="415.40" cy="667.10" r="2.10" fill="#111"/>
<circle cx="435.60" cy="653.29" r="2.10" fill="#111"/>
<text x="415.10" y="728.00" font-size="6.2" text-anchor="middle" font-weight="bold" fill="#111" >***</text>
<text x="415.10" y="731.00" font-size="6.2" text-anchor="middle" font-weight="bold" fill="#111" >**</text>
<text x="434.80" y="713.50" font-size="6.2" text-anchor="middle" font-weight="bold" fill="#111" >***</text>
<text x="434.80" y="716.50" font-size="6.2" text-anchor="middle" font-weight="bold" fill="#111" >***</text>
<text x="385.10" y="750.00" font-size="6.2" text-anchor="middle" font-weight="bold" fill="#111" >**</text>
<path d="M345.50,762.30 L348.30,767.80 L346.25,767.40 L346.25,770.80 L344.75,770.80 L344.75,767.40 L342.70,767.80 Z" fill="#000"/>
<path d="M385.20,762.30 L388.00,767.80 L385.95,767.40 L385.95,770.80 L384.45,770.80 L384.45,767.40 L382.40,767.80 Z" fill="#000"/>
<path d="M426.30,762.30 L429.10,767.80 L427.05,767.40 L427.05,770.80 L425.55,770.80 L425.55,767.40 L423.50,767.80 Z" fill="#000"/>
<text transform="translate(295.80,684.20) rotate(-90)" font-size="10.1" text-anchor="middle" fill="#111" stroke="#111" stroke-width="0.22">Tumor volume</text>
<text x="384.60" y="783.80" font-size="9.6" text-anchor="middle" font-weight="normal" fill="#111" stroke="#111" stroke-width="0.3" >Days</text>
<line x1="319.50" y1="618.50" x2="326.50" y2="618.50" stroke="#777" stroke-width="0.9"/>
<path d="M323.00,616.74 L324.76,618.50 L323.00,620.26 L321.24,618.50 Z" fill="#808080"/>
<text x="329.80" y="620.90" font-size="7.3" text-anchor="start" font-weight="normal" fill="#111" stroke="#111" stroke-width="0.3" >ctrl</text>
<line x1="319.50" y1="626.20" x2="326.50" y2="626.20" stroke="#111" stroke-width="0.9"/>
<circle cx="323.00" cy="626.20" r="1.68" fill="#111"/>
<text x="329.80" y="628.60" font-size="7.3" text-anchor="start" font-weight="normal" fill="#111" stroke="#111" stroke-width="0.3" >rabbit IgG</text>
<line x1="319.50" y1="634.80" x2="326.50" y2="634.80" stroke="#555" stroke-width="0.9"/>
<circle cx="323.00" cy="634.80" r="1.40" fill="#fff" stroke="#444" stroke-width="0.9"/>
<text x="329.80" y="637.20" font-size="7.3" text-anchor="start" font-weight="normal" fill="#111" stroke="#111" stroke-width="0.3" >anti-HSP105 Ab</text>
</svg></div>
</body></html>
